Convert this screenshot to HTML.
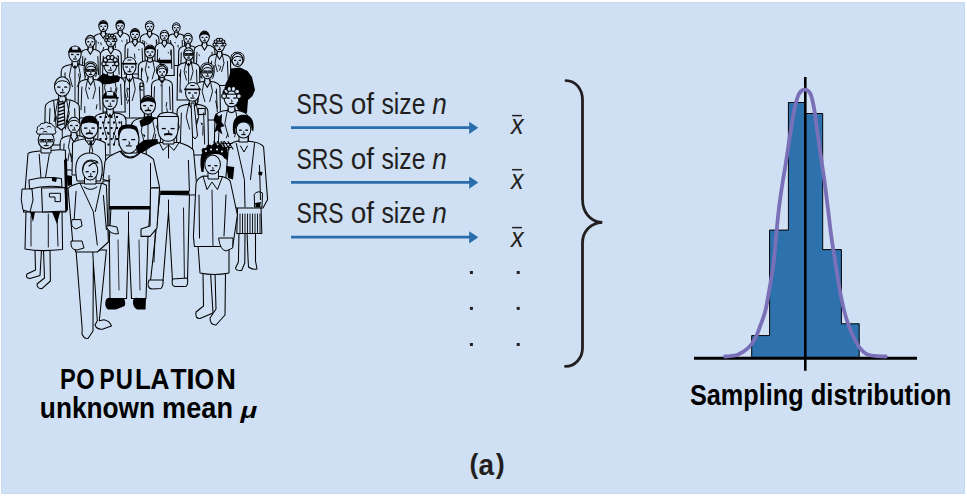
<!DOCTYPE html>
<html><head><meta charset="utf-8"><style>
html,body{margin:0;padding:0;background:#fff;width:967px;height:496px;overflow:hidden}
svg{display:block}
text{font-family:"Liberation Sans",sans-serif;font-kerning:none}
</style></head><body>
<svg width="967" height="496" viewBox="0 0 967 496">
<rect x="0" y="0" width="967" height="496" fill="#fff"/>
<rect x="1" y="2" width="964" height="492" fill="#cfe0f4"/>
<rect x="1.5" y="2.5" width="963" height="491" fill="none" stroke="#c6daf0" stroke-width="1"/>
<g id="crowd"><path d="M101.2 31.6 L101.2 33.6 C96.4 34.1 93.4 35.3 93.4 39.3 L93.0 64.0 L113.6 64.0 L113.2 39.3 C113.2 35.3 110.2 34.1 105.4 33.6 L105.4 31.6" fill="#cfe0f4" stroke="#000" stroke-width="1.05"/>
<path d="M96.2 40.3 L95.5 58.1" fill="none" stroke="#000" stroke-width="0.95"/>
<path d="M110.4 40.3 L111.1 58.1" fill="none" stroke="#000" stroke-width="0.95"/>
<path d="M100.2 33.6 L103.3 38.3 L106.4 33.6" fill="none" stroke="#000" stroke-width="1.1"/>
<path d="M100.8 42.3 L101.2 45.2" fill="none" stroke="#000" stroke-width="0.9"/>
<path d="M103.8 46.9 L102.6 51.4" fill="none" stroke="#000" stroke-width="0.9"/>
<path d="M97.5 42.0 l1.6 0.5 l-0.5 1.6 z" fill="#000"/>
<path d="M101.2 29.9 L101.2 33.6" fill="none" stroke="#000" stroke-width="1.0"/>
<path d="M105.4 29.9 L105.4 33.6" fill="none" stroke="#000" stroke-width="1.0"/>
<ellipse cx="103.3" cy="26.0" rx="4.5" ry="5.6" fill="#cfe0f4" stroke="#000" stroke-width="1.05"/>
<path d="M98.6 26.3 C98.3 19.5 108.2 19.5 108.0 26.3 L107.1 24.9 Q103.3 22.6 99.5 24.9 Z" fill="#000"/>
<path d="M100.4 26.3 L102.2 26.3" fill="none" stroke="#000" stroke-width="1.3"/>
<path d="M104.4 26.3 L106.2 26.3" fill="none" stroke="#000" stroke-width="1.3"/>
<path d="M103.3 27.2 L103.8 28.6 L103.0 28.8" fill="none" stroke="#000" stroke-width="0.9"/>
<path d="M102.0 29.6 L104.6 29.6" fill="none" stroke="#000" stroke-width="1.1"/>
<path d="M118.2 30.7 L118.2 32.7 C113.7 33.2 110.9 34.3 110.9 38.3 L110.4 63.5 L130.0 63.5 L129.6 38.3 C129.6 34.3 126.7 33.2 122.2 32.7 L122.2 30.7" fill="#cfe0f4" stroke="#000" stroke-width="1.05"/>
<path d="M113.5 39.3 L112.8 57.4" fill="none" stroke="#000" stroke-width="0.95"/>
<path d="M126.9 39.3 L127.6 57.4" fill="none" stroke="#000" stroke-width="0.95"/>
<path d="M117.2 32.7 L120.2 37.1 L123.2 32.7" fill="none" stroke="#000" stroke-width="1.1"/>
<path d="M114.4 39.6 L114.2 45.0" fill="none" stroke="#000" stroke-width="0.9"/>
<path d="M115.1 42.3 L115.4 48.1" fill="none" stroke="#000" stroke-width="0.9"/>
<path d="M121.1 40.3 l1.5 0.5 l-0.4 1.5 z" fill="#000"/>
<path d="M118.2 29.2 L118.2 32.7" fill="none" stroke="#000" stroke-width="1.0"/>
<path d="M122.2 29.2 L122.2 32.7" fill="none" stroke="#000" stroke-width="1.0"/>
<ellipse cx="120.2" cy="25.5" rx="4.2" ry="5.3" fill="#cfe0f4" stroke="#000" stroke-width="1.05"/>
<path d="M115.7 25.8 C115.5 19.4 124.9 19.4 124.7 25.8 L123.8 24.4 Q120.2 22.3 116.6 24.4 Z" fill="#000"/>
<path d="M117.5 25.8 L119.2 25.8" fill="none" stroke="#000" stroke-width="1.3"/>
<path d="M121.2 25.8 L122.9 25.8" fill="none" stroke="#000" stroke-width="1.3"/>
<path d="M120.2 26.7 L120.6 27.9 L119.9 28.2" fill="none" stroke="#000" stroke-width="0.9"/>
<path d="M118.9 28.9 L121.5 28.9" fill="none" stroke="#000" stroke-width="1.1"/>
<path d="M147.6 31.4 L147.6 33.4 C143.1 33.9 140.2 35.0 140.2 39.0 L139.8 64.2 L159.4 64.2 L158.9 39.0 C158.9 35.0 156.1 33.9 151.6 33.4 L151.6 31.4" fill="#cfe0f4" stroke="#000" stroke-width="1.05"/>
<path d="M142.9 40.0 L142.2 58.1" fill="none" stroke="#000" stroke-width="0.95"/>
<path d="M156.3 40.0 L157.0 58.1" fill="none" stroke="#000" stroke-width="0.95"/>
<path d="M146.6 33.4 L149.6 37.8 L152.6 33.4" fill="none" stroke="#000" stroke-width="1.1"/>
<path d="M156.1 39.4 L157.0 43.0" fill="none" stroke="#000" stroke-width="0.9"/>
<path d="M144.8 40.9 L144.3 46.2" fill="none" stroke="#000" stroke-width="0.9"/>
<path d="M145.8 42.6 l1.5 0.5 l-0.4 1.5 z" fill="#000"/>
<path d="M147.6 29.9 L147.6 33.4" fill="none" stroke="#000" stroke-width="1.0"/>
<path d="M151.6 29.9 L151.6 33.4" fill="none" stroke="#000" stroke-width="1.0"/>
<ellipse cx="149.6" cy="26.2" rx="4.2" ry="5.3" fill="#cfe0f4" stroke="#000" stroke-width="1.05"/>
<path d="M145.6 25.4 Q147.0 22.7 149.6 23.0 Q152.2 22.7 153.6 25.4" fill="none" stroke="#000" stroke-width="1.0"/>
<path d="M146.9 26.5 L148.6 26.5" fill="none" stroke="#000" stroke-width="1.3"/>
<path d="M150.6 26.5 L152.3 26.5" fill="none" stroke="#000" stroke-width="1.3"/>
<path d="M149.6 27.4 L150.0 28.6 L149.3 28.9" fill="none" stroke="#000" stroke-width="0.9"/>
<path d="M148.3 29.6 L150.9 29.6" fill="none" stroke="#000" stroke-width="1.1"/>
<path d="M174.6 31.7 L174.6 33.7 C170.5 34.2 168.1 35.0 168.1 39.0 L167.7 65.4 L184.9 65.4 L184.6 39.0 C184.6 35.0 182.1 34.2 178.0 33.7 L178.0 31.7" fill="#cfe0f4" stroke="#000" stroke-width="1.05"/>
<path d="M170.4 40.0 L169.8 59.1" fill="none" stroke="#000" stroke-width="0.95"/>
<path d="M182.2 40.0 L182.8 59.1" fill="none" stroke="#000" stroke-width="0.95"/>
<path d="M173.6 33.7 L176.3 37.7 L179.0 33.7" fill="none" stroke="#000" stroke-width="1.1"/>
<path d="M178.0 44.9 L178.1 47.4" fill="none" stroke="#000" stroke-width="0.9"/>
<path d="M171.0 41.9 L171.4 45.5" fill="none" stroke="#000" stroke-width="0.9"/>
<path d="M174.3 41.9 l1.4 0.4 l-0.4 1.4 z" fill="#000"/>
<path d="M174.6 30.7 L174.6 33.7" fill="none" stroke="#000" stroke-width="1.0"/>
<path d="M178.0 30.7 L178.0 33.7" fill="none" stroke="#000" stroke-width="1.0"/>
<ellipse cx="176.3" cy="27.4" rx="3.8" ry="4.7" fill="#cfe0f4" stroke="#000" stroke-width="1.05"/>
<path d="M172.7 26.7 Q174.1 24.4 176.3 24.6 Q178.6 24.4 179.9 26.7" fill="none" stroke="#000" stroke-width="1.0"/>
<path d="M173.9 27.7 L175.4 27.7" fill="none" stroke="#000" stroke-width="1.3"/>
<path d="M177.2 27.7 L178.7 27.7" fill="none" stroke="#000" stroke-width="1.3"/>
<path d="M176.3 28.4 L176.7 29.6 L176.1 29.7" fill="none" stroke="#000" stroke-width="0.9"/>
<path d="M175.2 30.4 L177.4 30.4" fill="none" stroke="#000" stroke-width="1.1"/>
<path d="M132.9 39.6 L132.9 41.6 C128.1 42.1 125.1 43.3 125.1 47.3 L124.7 74.0 L145.3 74.0 L144.9 47.3 C144.9 43.3 141.9 42.1 137.1 41.6 L137.1 39.6" fill="#cfe0f4" stroke="#000" stroke-width="1.05"/>
<path d="M127.9 48.3 L127.2 67.6" fill="none" stroke="#000" stroke-width="0.95"/>
<path d="M142.1 48.3 L142.8 67.6" fill="none" stroke="#000" stroke-width="0.95"/>
<path d="M131.9 41.6 L135.0 46.3 L138.1 41.6" fill="none" stroke="#000" stroke-width="1.1"/>
<path d="M134.3 53.5 L135.1 58.7" fill="none" stroke="#000" stroke-width="0.9"/>
<path d="M131.3 59.4 L131.4 65.3" fill="none" stroke="#000" stroke-width="0.9"/>
<path d="M137.9 48.7 l1.6 0.5 l-0.5 1.6 z" fill="#000"/>
<path d="M132.9 37.9 L132.9 41.6" fill="none" stroke="#000" stroke-width="1.0"/>
<path d="M137.1 37.9 L137.1 41.6" fill="none" stroke="#000" stroke-width="1.0"/>
<ellipse cx="135.0" cy="34.0" rx="4.5" ry="5.6" fill="#cfe0f4" stroke="#000" stroke-width="1.05"/>
<path d="M130.3 34.3 C130.1 27.5 139.9 27.5 139.7 34.3 L138.8 32.9 Q135.0 30.6 131.2 32.9 Z" fill="#000"/>
<path d="M132.1 34.3 L133.9 34.3" fill="none" stroke="#000" stroke-width="1.3"/>
<path d="M136.1 34.3 L137.9 34.3" fill="none" stroke="#000" stroke-width="1.3"/>
<path d="M135.0 35.2 L135.4 36.6 L134.7 36.8" fill="none" stroke="#000" stroke-width="0.9"/>
<path d="M133.7 37.6 L136.3 37.6" fill="none" stroke="#000" stroke-width="1.1"/>
<path d="M162.4 40.7 L162.4 42.7 C157.9 43.2 155.1 44.3 155.1 48.3 L154.6 75.5 L174.2 75.5 L173.8 48.3 C173.8 44.3 170.9 43.2 166.4 42.7 L166.4 40.7" fill="#cfe0f4" stroke="#000" stroke-width="1.05"/>
<path d="M157.7 49.3 L157.0 68.9" fill="none" stroke="#000" stroke-width="0.95"/>
<path d="M171.1 49.3 L171.8 68.9" fill="none" stroke="#000" stroke-width="0.95"/>
<path d="M161.4 42.7 L164.4 47.1 L167.4 42.7" fill="none" stroke="#000" stroke-width="1.1"/>
<path d="M170.9 50.2 L170.7 55.3" fill="none" stroke="#000" stroke-width="0.9"/>
<path d="M159.7 57.8 L158.5 62.6" fill="none" stroke="#000" stroke-width="0.9"/>
<path d="M167.5 51.8 l1.5 0.5 l-0.4 1.5 z" fill="#000"/>
<path d="M162.4 39.2 L162.4 42.7" fill="none" stroke="#000" stroke-width="1.0"/>
<path d="M166.4 39.2 L166.4 42.7" fill="none" stroke="#000" stroke-width="1.0"/>
<ellipse cx="164.4" cy="35.5" rx="4.2" ry="5.3" fill="#cfe0f4" stroke="#000" stroke-width="1.05"/>
<path d="M160.4 34.7 Q161.8 32.0 164.4 32.3 Q167.0 32.0 168.4 34.7" fill="none" stroke="#000" stroke-width="1.0"/>
<path d="M161.7 35.8 L163.4 35.8" fill="none" stroke="#000" stroke-width="1.3"/>
<path d="M165.4 35.8 L167.1 35.8" fill="none" stroke="#000" stroke-width="1.3"/>
<path d="M164.4 36.7 L164.8 37.9 L164.1 38.2" fill="none" stroke="#000" stroke-width="0.9"/>
<path d="M163.1 38.9 L165.7 38.9" fill="none" stroke="#000" stroke-width="1.1"/>
<path d="M186.0 43.7 L186.0 45.7 C181.5 46.2 178.7 47.3 178.7 51.3 L178.2 78.5 L197.8 78.5 L197.3 51.3 C197.3 47.3 194.5 46.2 190.0 45.7 L190.0 43.7" fill="#cfe0f4" stroke="#000" stroke-width="1.05"/>
<path d="M181.3 52.3 L180.6 71.9" fill="none" stroke="#000" stroke-width="0.95"/>
<path d="M194.7 52.3 L195.4 71.9" fill="none" stroke="#000" stroke-width="0.95"/>
<path d="M185.0 45.7 L188.0 50.1 L191.0 45.7" fill="none" stroke="#000" stroke-width="1.1"/>
<path d="M193.1 57.2 L193.6 61.8" fill="none" stroke="#000" stroke-width="0.9"/>
<path d="M189.1 60.1 L190.0 65.9" fill="none" stroke="#000" stroke-width="0.9"/>
<path d="M187.7 55.6 l1.5 0.5 l-0.4 1.5 z" fill="#000"/>
<path d="M186.0 42.2 L186.0 45.7" fill="none" stroke="#000" stroke-width="1.0"/>
<path d="M190.0 42.2 L190.0 45.7" fill="none" stroke="#000" stroke-width="1.0"/>
<ellipse cx="188.0" cy="38.5" rx="4.2" ry="5.3" fill="#cfe0f4" stroke="#000" stroke-width="1.05"/>
<path d="M184.0 37.7 Q185.4 35.0 188.0 35.3 Q190.6 35.0 192.0 37.7" fill="none" stroke="#000" stroke-width="1.0"/>
<path d="M185.3 38.8 L187.0 38.8" fill="none" stroke="#000" stroke-width="1.3"/>
<path d="M189.0 38.8 L190.7 38.8" fill="none" stroke="#000" stroke-width="1.3"/>
<path d="M188.0 39.7 L188.4 40.9 L187.7 41.2" fill="none" stroke="#000" stroke-width="0.9"/>
<path d="M186.7 41.9 L189.3 41.9" fill="none" stroke="#000" stroke-width="1.1"/>
<path d="M202.3 43.0 L202.3 45.0 C197.2 45.5 194.1 46.9 194.1 50.9 L193.6 77.0 L215.4 77.0 L214.9 50.9 C214.9 46.9 211.8 45.5 206.7 45.0 L206.7 43.0" fill="#cfe0f4" stroke="#000" stroke-width="1.05"/>
<path d="M197.0 51.9 L196.2 70.7" fill="none" stroke="#000" stroke-width="0.95"/>
<path d="M212.0 51.9 L212.8 70.7" fill="none" stroke="#000" stroke-width="0.95"/>
<path d="M201.3 45.0 L204.5 50.0 L207.7 45.0" fill="none" stroke="#000" stroke-width="1.1"/>
<path d="M197.8 66.7 L198.2 73.3" fill="none" stroke="#000" stroke-width="0.9"/>
<path d="M209.4 57.2 L209.1 62.6" fill="none" stroke="#000" stroke-width="0.9"/>
<path d="M198.2 54.2 l1.7 0.6 l-0.5 1.7 z" fill="#000"/>
<path d="M202.3 41.2 L202.3 45.0" fill="none" stroke="#000" stroke-width="1.0"/>
<path d="M206.7 41.2 L206.7 45.0" fill="none" stroke="#000" stroke-width="1.0"/>
<ellipse cx="204.5" cy="37.0" rx="4.8" ry="5.9" fill="#cfe0f4" stroke="#000" stroke-width="1.05"/>
<path d="M199.5 37.3 C199.3 30.2 209.7 30.2 209.5 37.3 L208.5 35.8 Q204.5 33.4 200.5 35.8 Z" fill="#000"/>
<path d="M201.5 37.4 L203.4 37.4" fill="none" stroke="#000" stroke-width="1.3"/>
<path d="M205.6 37.4 L207.5 37.4" fill="none" stroke="#000" stroke-width="1.3"/>
<path d="M204.5 38.3 L205.0 39.7 L204.2 40.0" fill="none" stroke="#000" stroke-width="0.9"/>
<path d="M203.1 40.8 L205.9 40.8" fill="none" stroke="#000" stroke-width="1.1"/>
<path d="M88.1 47.3 L88.1 49.3 C83.0 49.8 79.8 51.2 79.8 55.2 L79.4 81.3 L101.2 81.3 L100.8 55.2 C100.8 51.2 97.6 49.8 92.5 49.3 L92.5 47.3" fill="#cfe0f4" stroke="#000" stroke-width="1.05"/>
<path d="M82.8 56.2 L82.0 75.0" fill="none" stroke="#000" stroke-width="0.95"/>
<path d="M97.8 56.2 L98.6 75.0" fill="none" stroke="#000" stroke-width="0.95"/>
<path d="M87.1 49.3 L90.3 54.3 L93.5 49.3" fill="none" stroke="#000" stroke-width="1.1"/>
<path d="M85.3 57.7 L84.0 63.5" fill="none" stroke="#000" stroke-width="0.9"/>
<path d="M84.7 60.7 L84.4 66.8" fill="none" stroke="#000" stroke-width="0.9"/>
<path d="M84.7 58.3 l1.7 0.6 l-0.5 1.7 z" fill="#000"/>
<path d="M88.1 45.5 L88.1 49.3" fill="none" stroke="#000" stroke-width="1.0"/>
<path d="M92.5 45.5 L92.5 49.3" fill="none" stroke="#000" stroke-width="1.0"/>
<ellipse cx="90.3" cy="41.3" rx="4.8" ry="5.9" fill="#cfe0f4" stroke="#000" stroke-width="1.05"/>
<path d="M85.8 40.4 Q87.5 37.4 90.3 37.7 Q93.1 37.4 94.8 40.4" fill="none" stroke="#000" stroke-width="1.0"/>
<path d="M87.3 41.7 L89.2 41.7" fill="none" stroke="#000" stroke-width="1.3"/>
<path d="M91.4 41.7 L93.3 41.7" fill="none" stroke="#000" stroke-width="1.3"/>
<path d="M90.3 42.6 L90.8 44.0 L90.0 44.3" fill="none" stroke="#000" stroke-width="0.9"/>
<path d="M88.9 45.1 L91.7 45.1" fill="none" stroke="#000" stroke-width="1.1"/>
<path d="M108.6 47.0 L108.6 49.0 C103.5 49.5 100.3 50.9 100.3 54.9 L99.9 81.0 L121.7 81.0 L121.2 54.9 C121.2 50.9 118.1 49.5 113.0 49.0 L113.0 47.0" fill="#cfe0f4" stroke="#000" stroke-width="1.05"/>
<path d="M103.3 55.9 L102.5 74.7" fill="none" stroke="#000" stroke-width="0.95"/>
<path d="M118.3 55.9 L119.1 74.7" fill="none" stroke="#000" stroke-width="0.95"/>
<path d="M107.6 49.0 L110.8 54.0 L114.0 49.0" fill="none" stroke="#000" stroke-width="1.1"/>
<path d="M111.6 74.9 L112.5 81.0" fill="none" stroke="#000" stroke-width="0.9"/>
<path d="M107.4 64.2 L107.0 70.4" fill="none" stroke="#000" stroke-width="0.9"/>
<path d="M116.9 55.2 l1.7 0.6 l-0.5 1.7 z" fill="#000"/>
<path d="M108.6 45.2 L108.6 49.0" fill="none" stroke="#000" stroke-width="1.0"/>
<path d="M113.0 45.2 L113.0 49.0" fill="none" stroke="#000" stroke-width="1.0"/>
<ellipse cx="110.8" cy="41.0" rx="4.8" ry="5.9" fill="#cfe0f4" stroke="#000" stroke-width="1.05"/>
<circle cx="106.1" cy="40.1" r="1.5" fill="#cfe0f4" stroke="#000" stroke-width="1.1"/>
<circle cx="107.2" cy="37.3" r="1.5" fill="#cfe0f4" stroke="#000" stroke-width="1.1"/>
<circle cx="109.5" cy="35.6" r="1.5" fill="#cfe0f4" stroke="#000" stroke-width="1.1"/>
<circle cx="112.1" cy="35.6" r="1.5" fill="#cfe0f4" stroke="#000" stroke-width="1.1"/>
<circle cx="114.4" cy="37.3" r="1.5" fill="#cfe0f4" stroke="#000" stroke-width="1.1"/>
<circle cx="115.5" cy="40.1" r="1.5" fill="#cfe0f4" stroke="#000" stroke-width="1.1"/>
<path d="M107.0 38.9 L114.6 38.9" fill="none" stroke="#000" stroke-width="1.0"/>
<path d="M107.8 41.4 L109.7 41.4" fill="none" stroke="#000" stroke-width="1.3"/>
<path d="M111.9 41.4 L113.8 41.4" fill="none" stroke="#000" stroke-width="1.3"/>
<path d="M110.8 42.3 L111.3 43.7 L110.5 44.0" fill="none" stroke="#000" stroke-width="0.9"/>
<path d="M109.4 44.8 L112.2 44.8" fill="none" stroke="#000" stroke-width="1.1"/>
<path d="M217.2 52.0 L217.2 54.0 C211.8 54.5 208.5 56.0 208.5 60.0 L208.0 85.5 L231.0 85.5 L230.5 60.0 C230.5 56.0 227.2 54.5 221.8 54.0 L221.8 52.0" fill="#cfe0f4" stroke="#000" stroke-width="1.05"/>
<path d="M211.6 61.0 L210.8 79.4" fill="none" stroke="#000" stroke-width="0.95"/>
<path d="M227.4 61.0 L228.2 79.4" fill="none" stroke="#000" stroke-width="0.95"/>
<path d="M216.2 54.0 L219.5 59.2 L222.8 54.0" fill="none" stroke="#000" stroke-width="1.1"/>
<path d="M216.7 54.5 L215.0 63.0 L217.5 72.0" fill="none" stroke="#000" stroke-width="0.9"/>
<path d="M222.3 54.5 L224.0 63.0 L221.5 72.0" fill="none" stroke="#000" stroke-width="0.9"/>
<path d="M214.3 65.2 L213.5 70.1" fill="none" stroke="#000" stroke-width="0.9"/>
<path d="M220.9 65.9 L219.4 70.6" fill="none" stroke="#000" stroke-width="0.9"/>
<path d="M217.7 64.6 l1.8 0.6 l-0.5 1.8 z" fill="#000"/>
<path d="M217.2 49.9 L217.2 54.0" fill="none" stroke="#000" stroke-width="1.0"/>
<path d="M221.8 49.9 L221.8 54.0" fill="none" stroke="#000" stroke-width="1.0"/>
<ellipse cx="219.5" cy="45.5" rx="5.0" ry="6.2" fill="#cfe0f4" stroke="#000" stroke-width="1.05"/>
<circle cx="214.6" cy="44.6" r="1.6" fill="#cfe0f4" stroke="#000" stroke-width="1.1"/>
<circle cx="215.7" cy="41.6" r="1.6" fill="#cfe0f4" stroke="#000" stroke-width="1.1"/>
<circle cx="218.1" cy="39.8" r="1.6" fill="#cfe0f4" stroke="#000" stroke-width="1.1"/>
<circle cx="220.9" cy="39.8" r="1.6" fill="#cfe0f4" stroke="#000" stroke-width="1.1"/>
<circle cx="223.3" cy="41.6" r="1.6" fill="#cfe0f4" stroke="#000" stroke-width="1.1"/>
<circle cx="224.4" cy="44.6" r="1.6" fill="#cfe0f4" stroke="#000" stroke-width="1.1"/>
<path d="M215.5 43.3 L223.5 43.3" fill="none" stroke="#000" stroke-width="1.0"/>
<path d="M216.3 45.9 L218.3 45.9" fill="none" stroke="#000" stroke-width="1.3"/>
<path d="M220.7 45.9 L222.7 45.9" fill="none" stroke="#000" stroke-width="1.3"/>
<path d="M219.5 46.9 L220.0 48.4 L219.2 48.6" fill="none" stroke="#000" stroke-width="0.9"/>
<path d="M218.0 49.5 L221.0 49.5" fill="none" stroke="#000" stroke-width="1.1"/>
<path d="M157 59.7 L172 59.7 L172 63.4 L157 63.4 Z" fill="#000"/>
<path d="M72.1 62.6 L72.1 64.6 C65.4 65.1 61.2 67.4 61.2 71.4 L60.6 115.0 L89.4 115.0 L88.8 71.4 C88.8 67.4 84.6 65.1 77.9 64.6 L77.9 62.6" fill="#cfe0f4" stroke="#000" stroke-width="1.05"/>
<path d="M65.1 72.4 L64.1 104.3" fill="none" stroke="#000" stroke-width="0.95"/>
<path d="M84.9 72.4 L85.9 104.3" fill="none" stroke="#000" stroke-width="0.95"/>
<path d="M71.1 63.6 L74.1 68.0 L75.0 66.0 L75.9 68.0 L78.9 63.6" fill="none" stroke="#000" stroke-width="1.1"/>
<path d="M75.0 66.0 L75.0 114.0" fill="none" stroke="#000" stroke-width="0.9"/>
<path d="M71.5 65.1 L69.4 75.8 L72.5 87.1" fill="none" stroke="#000" stroke-width="0.9"/>
<path d="M78.5 65.1 L80.6 75.8 L77.5 87.1" fill="none" stroke="#000" stroke-width="0.9"/>
<path d="M84.1 92.8 L84.1 99.6" fill="none" stroke="#000" stroke-width="0.9"/>
<path d="M78.5 73.7 L80.0 81.3" fill="none" stroke="#000" stroke-width="0.9"/>
<path d="M81.6 80.8 l2.2 0.8 l-0.6 2.2 z" fill="#000"/>
<path d="M72.1 59.5 L72.1 64.6" fill="none" stroke="#000" stroke-width="1.0"/>
<path d="M77.9 59.5 L77.9 64.6" fill="none" stroke="#000" stroke-width="1.0"/>
<ellipse cx="75.0" cy="54.0" rx="6.2" ry="7.8" fill="#cfe0f4" stroke="#000" stroke-width="1.05"/>
<path d="M68.8 51.7 C68.8 43.8 81.2 43.8 81.2 51.7 Z" fill="#000"/>
<rect x="72.2" y="46.6" width="5.6" height="3.1" fill="#cfe0f4"/>
<path d="M68.1 51.7 L82.5 51.7" fill="none" stroke="#000" stroke-width="1.6"/>
<path d="M71.0 54.5 L73.5 54.5" fill="none" stroke="#000" stroke-width="1.3"/>
<path d="M76.5 54.5 L79.0 54.5" fill="none" stroke="#000" stroke-width="1.3"/>
<path d="M75.0 55.7 L75.6 57.6 L74.6 57.9" fill="none" stroke="#000" stroke-width="0.9"/>
<path d="M73.1 59.0 L76.9 59.0" fill="none" stroke="#000" stroke-width="1.1"/>
<path d="M147.6 58.4 L147.6 60.4 C141.9 60.9 138.4 62.6 138.4 66.6 L137.9 100.0 L162.1 100.0 L161.6 66.6 C161.6 62.6 158.1 60.9 152.4 60.4 L152.4 58.4" fill="#cfe0f4" stroke="#000" stroke-width="1.05"/>
<path d="M141.7 67.6 L140.9 91.9" fill="none" stroke="#000" stroke-width="0.95"/>
<path d="M158.3 67.6 L159.1 91.9" fill="none" stroke="#000" stroke-width="0.95"/>
<path d="M146.6 60.4 Q150.0 63.8 153.4 60.4" fill="none" stroke="#000" stroke-width="1.1"/>
<path d="M147.1 60.9 L145.3 69.8 L147.9 79.3" fill="none" stroke="#000" stroke-width="0.9"/>
<path d="M152.9 60.9 L154.7 69.8 L152.1 79.3" fill="none" stroke="#000" stroke-width="0.9"/>
<path d="M148.2 76.7 L146.9 82.5" fill="none" stroke="#000" stroke-width="0.9"/>
<path d="M142.6 68.4 L141.7 72.2" fill="none" stroke="#000" stroke-width="0.9"/>
<path d="M147.6 66.2 l1.9 0.6 l-0.5 1.9 z" fill="#000"/>
<path d="M147.6 56.1 L147.6 60.4" fill="none" stroke="#000" stroke-width="1.0"/>
<path d="M152.4 56.1 L152.4 60.4" fill="none" stroke="#000" stroke-width="1.0"/>
<ellipse cx="150.0" cy="51.5" rx="5.2" ry="6.6" fill="#cfe0f4" stroke="#000" stroke-width="1.05"/>
<path d="M144.5 51.8 C144.2 44.0 155.8 44.0 155.5 51.8 L154.5 50.2 Q150.0 47.6 145.5 50.2 Z" fill="#000"/>
<path d="M146.6 51.9 L148.7 51.9" fill="none" stroke="#000" stroke-width="1.3"/>
<path d="M151.3 51.9 L153.4 51.9" fill="none" stroke="#000" stroke-width="1.3"/>
<path d="M150.0 52.9 L150.5 54.5 L149.7 54.8" fill="none" stroke="#000" stroke-width="0.9"/>
<path d="M148.4 55.7 L151.6 55.7" fill="none" stroke="#000" stroke-width="1.1"/>
<path d="M186.3 60.5 L186.3 62.5 C180.9 63.0 177.6 64.5 177.6 68.5 L177.1 100.0 L200.1 100.0 L199.6 68.5 C199.6 64.5 196.3 63.0 190.9 62.5 L190.9 60.5" fill="#cfe0f4" stroke="#000" stroke-width="1.05"/>
<path d="M180.7 69.5 L179.9 92.4" fill="none" stroke="#000" stroke-width="0.95"/>
<path d="M196.5 69.5 L197.3 92.4" fill="none" stroke="#000" stroke-width="0.95"/>
<path d="M185.3 61.5 L187.9 65.2 L188.6 63.6 L189.3 65.2 L191.9 61.5" fill="none" stroke="#000" stroke-width="1.1"/>
<path d="M188.6 63.6 L188.6 99.0" fill="none" stroke="#000" stroke-width="0.9"/>
<path d="M185.8 63.0 L184.1 71.5 L186.6 80.5" fill="none" stroke="#000" stroke-width="0.9"/>
<path d="M191.4 63.0 L193.1 71.5 L190.6 80.5" fill="none" stroke="#000" stroke-width="0.9"/>
<path d="M180.6 72.1 L179.4 76.5" fill="none" stroke="#000" stroke-width="0.9"/>
<path d="M181.0 89.4 L181.4 93.0" fill="none" stroke="#000" stroke-width="0.9"/>
<path d="M185.1 70.9 l1.8 0.6 l-0.5 1.8 z" fill="#000"/>
<path d="M186.3 58.4 L186.3 62.5" fill="none" stroke="#000" stroke-width="1.0"/>
<path d="M190.9 58.4 L190.9 62.5" fill="none" stroke="#000" stroke-width="1.0"/>
<ellipse cx="188.6" cy="54.0" rx="5.0" ry="6.2" fill="#cfe0f4" stroke="#000" stroke-width="1.05"/>
<path d="M183.8 53.1 Q185.6 49.9 188.6 50.2 Q191.6 49.9 193.3 53.1" fill="none" stroke="#000" stroke-width="1.0"/>
<path d="M185.4 54.4 L187.4 54.4" fill="none" stroke="#000" stroke-width="1.3"/>
<path d="M189.8 54.4 L191.8 54.4" fill="none" stroke="#000" stroke-width="1.3"/>
<path d="M188.6 55.4 L189.1 56.9 L188.3 57.1" fill="none" stroke="#000" stroke-width="0.9"/>
<path d="M187.1 58.0 L190.1 58.0" fill="none" stroke="#000" stroke-width="1.1"/>
<rect x="184.7" y="53.5" width="3.4" height="1.8" fill="none" stroke="#000" stroke-width="0.9"/>
<rect x="189.1" y="53.5" width="3.4" height="1.8" fill="none" stroke="#000" stroke-width="0.9"/>
<path d="M231 68.5 L240 67.5 L247.5 71 L252 77 L255 90 L252.5 96 L248 100 L247 113 L240 113 L236 106 L226 92 L225 85 L229 77 Z" fill="#000"/>
<path d="M232.6 63.2 C229.7 60.0 230.1 51.9 237.5 52.2 C244.9 51.9 245.3 60.0 242.4 63.2" fill="#cfe0f4" stroke="#000" stroke-width="1.0"/>
<ellipse cx="237.5" cy="60.0" rx="5.5" ry="6.5" fill="#cfe0f4" stroke="#000" stroke-width="1.05"/>
<path d="M232.0 60.0 Q235.3 54.8 240.8 57.1 Q242.4 58.0 243.0 60.0" fill="none" stroke="#000" stroke-width="1.0"/>
<path d="M234.0 60.4 L236.2 60.4" fill="none" stroke="#000" stroke-width="1.3"/>
<path d="M238.8 60.4 L241.0 60.4" fill="none" stroke="#000" stroke-width="1.3"/>
<path d="M237.5 61.4 L238.1 63.0 L237.2 63.2" fill="none" stroke="#000" stroke-width="0.9"/>
<path d="M235.8 64.2 L239.2 64.2" fill="none" stroke="#000" stroke-width="1.1"/>
<path d="M126.5 75.5 L126.5 77.5 C119.5 78.0 115.2 80.4 115.2 84.4 L114.5 118.0 L144.4 118.0 L143.8 84.4 C143.8 80.4 139.5 78.0 132.5 77.5 L132.5 75.5" fill="#cfe0f4" stroke="#000" stroke-width="1.05"/>
<path d="M119.2 85.4 L118.2 109.9" fill="none" stroke="#000" stroke-width="0.95"/>
<path d="M139.8 85.4 L140.8 109.9" fill="none" stroke="#000" stroke-width="0.95"/>
<path d="M125.5 76.5 L128.6 81.1 L129.5 79.0 L130.4 81.1 L133.5 76.5" fill="none" stroke="#000" stroke-width="1.1"/>
<path d="M129.5 79.0 L129.5 117.0" fill="none" stroke="#000" stroke-width="0.9"/>
<path d="M125.9 78.0 L123.7 89.2 L126.9 100.9" fill="none" stroke="#000" stroke-width="0.9"/>
<path d="M133.1 78.0 L135.3 89.2 L132.1 100.9" fill="none" stroke="#000" stroke-width="0.9"/>
<path d="M126.7 88.8 L128.0 97.9" fill="none" stroke="#000" stroke-width="0.9"/>
<path d="M128.8 99.2 L127.2 103.7" fill="none" stroke="#000" stroke-width="0.9"/>
<path d="M126.6 87.4 l2.3 0.8 l-0.7 2.3 z" fill="#000"/>
<path d="M126.5 72.2 L126.5 77.5" fill="none" stroke="#000" stroke-width="1.0"/>
<path d="M132.5 72.2 L132.5 77.5" fill="none" stroke="#000" stroke-width="1.0"/>
<ellipse cx="129.5" cy="66.5" rx="6.5" ry="8.1" fill="#cfe0f4" stroke="#000" stroke-width="1.05"/>
<path d="M123.0 63.7 C123.7 55.1 135.3 55.1 136.0 63.7 Z" fill="#cfe0f4" stroke="#000" stroke-width="1.0"/>
<path d="M121.7 63.7 L137.3 63.7" fill="none" stroke="#000" stroke-width="1.6"/>
<path d="M127.5 60.0 L131.4 60.0" fill="none" stroke="#000" stroke-width="1.0"/>
<path d="M125.3 67.0 L127.9 67.0" fill="none" stroke="#000" stroke-width="1.3"/>
<path d="M131.1 67.0 L133.7 67.0" fill="none" stroke="#000" stroke-width="1.3"/>
<path d="M129.5 68.3 L130.2 70.2 L129.1 70.6" fill="none" stroke="#000" stroke-width="0.9"/>
<path d="M127.5 71.7 L131.4 71.7" fill="none" stroke="#000" stroke-width="1.1"/>
<path d="M140 83 L140 90 L143 90 M140 83 L143 83 L143 86.5 L140 86.5" fill="none" stroke="#000" stroke-width="1"/>
<path d="M107.3 74.0 L107.3 76.0 C100.3 76.5 96.0 78.9 96.0 82.9 L95.3 112.0 L125.2 112.0 L124.6 82.9 C124.6 78.9 120.3 76.5 113.3 76.0 L113.3 74.0" fill="#cfe0f4" stroke="#000" stroke-width="1.05"/>
<path d="M100.0 83.9 L99.0 105.0" fill="none" stroke="#000" stroke-width="0.95"/>
<path d="M120.6 83.9 L121.6 105.0" fill="none" stroke="#000" stroke-width="0.95"/>
<path d="M106.3 76.0 Q110.3 80.2 114.3 76.0" fill="none" stroke="#000" stroke-width="1.1"/>
<path d="M106.7 76.5 L104.5 87.7 L107.7 99.4" fill="none" stroke="#000" stroke-width="0.9"/>
<path d="M113.9 76.5 L116.1 87.7 L112.9 99.4" fill="none" stroke="#000" stroke-width="0.9"/>
<path d="M117.1 87.7 L115.3 96.6" fill="none" stroke="#000" stroke-width="0.9"/>
<path d="M110.9 87.3 L111.1 91.4" fill="none" stroke="#000" stroke-width="0.9"/>
<path d="M110.8 95.2 l2.3 0.8 l-0.7 2.3 z" fill="#000"/>
<path d="M107.3 70.7 L107.3 76.0" fill="none" stroke="#000" stroke-width="1.0"/>
<path d="M113.3 70.7 L113.3 76.0" fill="none" stroke="#000" stroke-width="1.0"/>
<ellipse cx="110.3" cy="65.0" rx="6.5" ry="8.1" fill="#cfe0f4" stroke="#000" stroke-width="1.05"/>
<circle cx="103.9" cy="63.8" r="2.1" fill="#cfe0f4" stroke="#000" stroke-width="1.1"/>
<circle cx="105.4" cy="59.9" r="2.1" fill="#cfe0f4" stroke="#000" stroke-width="1.1"/>
<circle cx="108.5" cy="57.6" r="2.1" fill="#cfe0f4" stroke="#000" stroke-width="1.1"/>
<circle cx="112.1" cy="57.6" r="2.1" fill="#cfe0f4" stroke="#000" stroke-width="1.1"/>
<circle cx="115.2" cy="59.9" r="2.1" fill="#cfe0f4" stroke="#000" stroke-width="1.1"/>
<circle cx="116.7" cy="63.8" r="2.1" fill="#cfe0f4" stroke="#000" stroke-width="1.1"/>
<path d="M105.1 62.2 L115.5 62.2" fill="none" stroke="#000" stroke-width="1.0"/>
<path d="M106.1 65.5 L108.7 65.5" fill="none" stroke="#000" stroke-width="1.3"/>
<path d="M111.9 65.5 L114.5 65.5" fill="none" stroke="#000" stroke-width="1.3"/>
<path d="M110.3 66.8 L111.0 68.7 L109.9 69.1" fill="none" stroke="#000" stroke-width="0.9"/>
<path d="M108.3 70.2 L112.2 70.2" fill="none" stroke="#000" stroke-width="1.1"/>
<path d="M97.7 78.8 L103.3 73.2 L110 76 L117.4 75.3 L120.3 77.4 L118.9 81.7 L110 84 L100.5 84.5 Z" fill="#000"/>
<path d="M88.1 77.3 L88.1 79.3 C82.1 79.8 78.5 81.6 78.5 85.6 L77.9 118.0 L103.2 118.0 L102.7 85.6 C102.7 81.6 99.1 79.8 93.1 79.3 L93.1 77.3" fill="#cfe0f4" stroke="#000" stroke-width="1.05"/>
<path d="M81.9 86.6 L81.0 110.2" fill="none" stroke="#000" stroke-width="0.95"/>
<path d="M99.3 86.6 L100.2 110.2" fill="none" stroke="#000" stroke-width="0.95"/>
<path d="M87.1 79.3 L90.6 85.0 L94.1 79.3" fill="none" stroke="#000" stroke-width="1.1"/>
<path d="M87.5 79.8 L85.6 89.2 L88.4 99.1" fill="none" stroke="#000" stroke-width="0.9"/>
<path d="M93.7 79.8 L95.5 89.2 L92.8 99.1" fill="none" stroke="#000" stroke-width="0.9"/>
<path d="M97.0 104.3 L96.2 109.2" fill="none" stroke="#000" stroke-width="0.9"/>
<path d="M84.7 106.3 L84.8 113.0" fill="none" stroke="#000" stroke-width="0.9"/>
<path d="M88.0 87.2 l2.0 0.7 l-0.6 2.0 z" fill="#000"/>
<path d="M88.1 74.8 L88.1 79.3" fill="none" stroke="#000" stroke-width="1.0"/>
<path d="M93.1 74.8 L93.1 79.3" fill="none" stroke="#000" stroke-width="1.0"/>
<path d="M85.6 76.9 C82.8 70.0 83.2 61.4 90.6 61.8 C98.0 61.4 98.4 70.0 95.5 76.9" fill="#cfe0f4" stroke="#000" stroke-width="1.0"/>
<ellipse cx="90.6" cy="70.0" rx="5.5" ry="6.9" fill="#cfe0f4" stroke="#000" stroke-width="1.05"/>
<path d="M85.1 70.0 Q88.4 64.5 93.9 66.9 Q95.5 67.9 96.1 70.0" fill="none" stroke="#000" stroke-width="1.0"/>
<path d="M87.1 70.4 L89.3 70.4" fill="none" stroke="#000" stroke-width="1.3"/>
<path d="M91.9 70.4 L94.1 70.4" fill="none" stroke="#000" stroke-width="1.3"/>
<path d="M90.6 71.5 L91.1 73.2 L90.3 73.4" fill="none" stroke="#000" stroke-width="0.9"/>
<path d="M88.9 74.4 L92.2 74.4" fill="none" stroke="#000" stroke-width="1.1"/>
<rect x="86.3" y="69.4" width="3.7" height="1.9" fill="none" stroke="#000" stroke-width="0.9"/>
<rect x="91.1" y="69.4" width="3.7" height="1.9" fill="none" stroke="#000" stroke-width="0.9"/>
<path d="M159.8 77.5 L159.8 79.5 C154.7 80.0 151.6 81.4 151.6 85.4 L151.1 118.0 L172.9 118.0 L172.4 85.4 C172.4 81.4 169.3 80.0 164.2 79.5 L164.2 77.5" fill="#cfe0f4" stroke="#000" stroke-width="1.05"/>
<path d="M154.5 86.4 L153.7 110.1" fill="none" stroke="#000" stroke-width="0.95"/>
<path d="M169.5 86.4 L170.3 110.1" fill="none" stroke="#000" stroke-width="0.95"/>
<path d="M158.8 78.5 L161.3 82.1 L162.0 80.6 L162.7 82.1 L165.2 78.5" fill="none" stroke="#000" stroke-width="1.1"/>
<path d="M162.0 80.6 L162.0 117.0" fill="none" stroke="#000" stroke-width="0.9"/>
<path d="M166.7 107.7 L167.7 113.6" fill="none" stroke="#000" stroke-width="0.9"/>
<path d="M166.8 102.1 L166.1 106.9" fill="none" stroke="#000" stroke-width="0.9"/>
<path d="M160.1 84.6 l1.7 0.6 l-0.5 1.7 z" fill="#000"/>
<path d="M159.8 75.7 L159.8 79.5" fill="none" stroke="#000" stroke-width="1.0"/>
<path d="M164.2 75.7 L164.2 79.5" fill="none" stroke="#000" stroke-width="1.0"/>
<path d="M157.7 74.5 C155.3 71.5 155.6 64.1 162.0 64.4 C168.4 64.1 168.7 71.5 166.3 74.5" fill="#cfe0f4" stroke="#000" stroke-width="1.0"/>
<ellipse cx="162.0" cy="71.5" rx="4.8" ry="5.9" fill="#cfe0f4" stroke="#000" stroke-width="1.05"/>
<path d="M157.2 71.5 Q160.1 66.8 164.8 68.8 Q166.3 69.7 166.8 71.5" fill="none" stroke="#000" stroke-width="1.0"/>
<path d="M159.0 71.9 L160.9 71.9" fill="none" stroke="#000" stroke-width="1.3"/>
<path d="M163.1 71.9 L165.0 71.9" fill="none" stroke="#000" stroke-width="1.3"/>
<path d="M162.0 72.8 L162.5 74.2 L161.7 74.5" fill="none" stroke="#000" stroke-width="0.9"/>
<path d="M160.6 75.3 L163.4 75.3" fill="none" stroke="#000" stroke-width="1.1"/>
<path d="M204.7 79.2 L204.7 81.2 C198.4 81.7 194.7 83.7 194.7 87.7 L194.1 120.0 L220.5 120.0 L220.0 87.7 C220.0 83.7 216.2 81.7 209.9 81.2 L209.9 79.2" fill="#cfe0f4" stroke="#000" stroke-width="1.05"/>
<path d="M198.2 88.7 L197.3 112.2" fill="none" stroke="#000" stroke-width="0.95"/>
<path d="M216.4 88.7 L217.3 112.2" fill="none" stroke="#000" stroke-width="0.95"/>
<path d="M203.7 81.2 L207.3 87.2 L210.9 81.2" fill="none" stroke="#000" stroke-width="1.1"/>
<path d="M204.1 81.7 L202.1 91.6 L205.0 101.9" fill="none" stroke="#000" stroke-width="0.9"/>
<path d="M210.5 81.7 L212.5 91.6 L209.6 101.9" fill="none" stroke="#000" stroke-width="0.9"/>
<path d="M198.6 95.8 L197.8 102.5" fill="none" stroke="#000" stroke-width="0.9"/>
<path d="M215.7 100.5 L217.2 108.5" fill="none" stroke="#000" stroke-width="0.9"/>
<path d="M214.6 91.2 l2.1 0.7 l-0.6 2.1 z" fill="#000"/>
<path d="M204.7 76.5 L204.7 81.2" fill="none" stroke="#000" stroke-width="1.0"/>
<path d="M209.9 76.5 L209.9 81.2" fill="none" stroke="#000" stroke-width="1.0"/>
<path d="M202.1 78.7 C199.1 71.5 199.5 62.5 207.3 62.9 C215.1 62.5 215.5 71.5 212.5 78.7" fill="#cfe0f4" stroke="#000" stroke-width="1.0"/>
<ellipse cx="207.3" cy="71.5" rx="5.8" ry="7.2" fill="#cfe0f4" stroke="#000" stroke-width="1.05"/>
<path d="M201.6 71.5 Q205.0 65.8 210.8 68.3 Q212.5 69.3 213.1 71.5" fill="none" stroke="#000" stroke-width="1.0"/>
<path d="M203.6 71.9 L205.9 71.9" fill="none" stroke="#000" stroke-width="1.3"/>
<path d="M208.7 71.9 L211.0 71.9" fill="none" stroke="#000" stroke-width="1.3"/>
<path d="M207.3 73.1 L207.9 74.8 L207.0 75.1" fill="none" stroke="#000" stroke-width="0.9"/>
<path d="M205.6 76.1 L209.0 76.1" fill="none" stroke="#000" stroke-width="1.1"/>
<rect x="202.8" y="70.9" width="3.9" height="2.0" fill="none" stroke="#000" stroke-width="0.9"/>
<rect x="207.9" y="70.9" width="3.9" height="2.0" fill="none" stroke="#000" stroke-width="0.9"/>
<path d="M58.7 97.6 L58.7 99.6 C50.4 100.1 45.2 103.3 45.2 107.3 L44.5 145.0 L80.1 145.0 L79.3 107.3 C79.3 103.3 74.2 100.1 65.9 99.6 L65.9 97.6" fill="#cfe0f4" stroke="#000" stroke-width="1.05"/>
<path d="M50.0 108.3 L48.8 135.8" fill="none" stroke="#000" stroke-width="0.95"/>
<path d="M74.6 108.3 L75.8 135.8" fill="none" stroke="#000" stroke-width="0.95"/>
<path d="M57.7 98.6 L61.2 103.9 L62.3 101.4 L63.4 103.9 L66.9 98.6" fill="none" stroke="#000" stroke-width="1.1"/>
<path d="M62.3 101.4 L62.3 144.0" fill="none" stroke="#000" stroke-width="0.9"/>
<path d="M58.0 100.1 L55.3 113.5 L59.2 127.5" fill="none" stroke="#000" stroke-width="0.9"/>
<path d="M66.6 100.1 L69.3 113.5 L65.4 127.5" fill="none" stroke="#000" stroke-width="0.9"/>
<path d="M55.4 116.0 L54.0 121.9" fill="none" stroke="#000" stroke-width="0.9"/>
<path d="M65.4 137.2 L67.0 144.8" fill="none" stroke="#000" stroke-width="0.9"/>
<path d="M65.6 119.7 l2.8 0.9 l-0.8 2.8 z" fill="#000"/>
<path d="M58.7 93.3 L58.7 99.6" fill="none" stroke="#000" stroke-width="1.0"/>
<path d="M65.9 93.3 L65.9 99.6" fill="none" stroke="#000" stroke-width="1.0"/>
<ellipse cx="62.3" cy="86.5" rx="7.8" ry="9.7" fill="#cfe0f4" stroke="#000" stroke-width="1.05"/>
<path d="M54.9 85.0 Q57.6 80.2 62.3 80.7 Q67.0 80.2 69.7 85.0" fill="none" stroke="#000" stroke-width="1.0"/>
<path d="M57.3 87.1 L60.4 87.1" fill="none" stroke="#000" stroke-width="1.3"/>
<path d="M64.2 87.1 L67.3 87.1" fill="none" stroke="#000" stroke-width="1.3"/>
<path d="M62.3 88.6 L63.1 91.0 L61.8 91.3" fill="none" stroke="#000" stroke-width="0.9"/>
<path d="M60.0 92.7 L64.6 92.7" fill="none" stroke="#000" stroke-width="1.1"/>
<path d="M58.5 102 L64 102 L65 127 L61.3 130 L57.5 127 Z" fill="#cfe0f4" stroke="#000" stroke-width="1.1"/>
<path d="M58.0 105.0 L64.5 103.0" fill="none" stroke="#000" stroke-width="1.4"/>
<path d="M58.0 108.4 L64.5 106.4" fill="none" stroke="#000" stroke-width="1.4"/>
<path d="M58.0 111.8 L64.5 109.8" fill="none" stroke="#000" stroke-width="1.4"/>
<path d="M58.0 115.2 L64.5 113.2" fill="none" stroke="#000" stroke-width="1.4"/>
<path d="M58.0 118.6 L64.5 116.6" fill="none" stroke="#000" stroke-width="1.4"/>
<path d="M58.0 122.0 L64.5 120.0" fill="none" stroke="#000" stroke-width="1.4"/>
<path d="M58.0 125.4 L64.5 123.4" fill="none" stroke="#000" stroke-width="1.4"/>
<path d="M53.6 100.4 L56.3 127.6" fill="none" stroke="#000" stroke-width="1.0"/>
<path d="M70.0 100.4 L65.4 129.4" fill="none" stroke="#000" stroke-width="1.0"/>
<path d="M106.7 110.8 L106.7 112.8 C98.8 113.3 94.0 116.2 94.0 120.2 L93.3 155.0 L126.7 155.0 L126.0 120.2 C126.0 116.2 121.2 113.3 113.3 112.8 L113.3 110.8" fill="#cfe0f4" stroke="#000" stroke-width="1.05"/>
<path d="M98.5 121.2 L97.4 146.5" fill="none" stroke="#000" stroke-width="0.95"/>
<path d="M121.5 121.2 L122.6 146.5" fill="none" stroke="#000" stroke-width="0.95"/>
<path d="M105.7 111.8 L109.0 116.8 L110.0 114.4 L111.0 116.8 L114.3 111.8" fill="none" stroke="#000" stroke-width="1.1"/>
<path d="M110.0 114.4 L110.0 154.0" fill="none" stroke="#000" stroke-width="0.9"/>
<path d="M105.9 113.3 L103.5 125.8 L107.1 138.9" fill="none" stroke="#000" stroke-width="0.9"/>
<path d="M114.1 113.3 L116.5 125.8 L112.9 138.9" fill="none" stroke="#000" stroke-width="0.9"/>
<path d="M100.4 140.7 L102.1 149.6" fill="none" stroke="#000" stroke-width="0.9"/>
<path d="M115.8 135.4 L114.4 144.3" fill="none" stroke="#000" stroke-width="0.9"/>
<path d="M106.6 131.6 l2.6 0.9 l-0.7 2.6 z" fill="#000"/>
<path d="M106.7 106.8 L106.7 112.8" fill="none" stroke="#000" stroke-width="1.0"/>
<path d="M113.3 106.8 L113.3 112.8" fill="none" stroke="#000" stroke-width="1.0"/>
<ellipse cx="110.0" cy="100.5" rx="7.2" ry="9.1" fill="#cfe0f4" stroke="#000" stroke-width="1.05"/>
<path d="M102.8 97.8 C102.8 88.7 117.2 88.7 117.2 97.8 Z" fill="#000"/>
<rect x="106.7" y="91.9" width="6.5" height="3.6" fill="#cfe0f4"/>
<path d="M102.0 97.8 L118.7 97.8" fill="none" stroke="#000" stroke-width="1.6"/>
<path d="M105.4 101.0 L108.3 101.0" fill="none" stroke="#000" stroke-width="1.3"/>
<path d="M111.7 101.0 L114.6 101.0" fill="none" stroke="#000" stroke-width="1.3"/>
<path d="M110.0 102.5 L110.7 104.7 L109.6 105.0" fill="none" stroke="#000" stroke-width="0.9"/>
<path d="M107.8 106.3 L112.2 106.3" fill="none" stroke="#000" stroke-width="1.1"/>
<rect x="99.5" y="116.0" width="2" height="2" fill="#000"/>
<rect x="105.0" y="116.0" width="2" height="2" fill="#000"/>
<rect x="110.5" y="116.0" width="2" height="2" fill="#000"/>
<rect x="116.0" y="116.0" width="2" height="2" fill="#000"/>
<rect x="102.0" y="121.5" width="2" height="2" fill="#000"/>
<rect x="107.5" y="121.5" width="2" height="2" fill="#000"/>
<rect x="113.0" y="121.5" width="2" height="2" fill="#000"/>
<rect x="118.5" y="121.5" width="2" height="2" fill="#000"/>
<rect x="99.5" y="127.0" width="2" height="2" fill="#000"/>
<rect x="105.0" y="127.0" width="2" height="2" fill="#000"/>
<rect x="110.5" y="127.0" width="2" height="2" fill="#000"/>
<rect x="116.0" y="127.0" width="2" height="2" fill="#000"/>
<rect x="102.0" y="132.5" width="2" height="2" fill="#000"/>
<rect x="107.5" y="132.5" width="2" height="2" fill="#000"/>
<rect x="113.0" y="132.5" width="2" height="2" fill="#000"/>
<rect x="118.5" y="132.5" width="2" height="2" fill="#000"/>
<rect x="99.5" y="138.0" width="2" height="2" fill="#000"/>
<rect x="105.0" y="138.0" width="2" height="2" fill="#000"/>
<rect x="110.5" y="138.0" width="2" height="2" fill="#000"/>
<rect x="116.0" y="138.0" width="2" height="2" fill="#000"/>
<rect x="102.0" y="143.5" width="2" height="2" fill="#000"/>
<rect x="107.5" y="143.5" width="2" height="2" fill="#000"/>
<rect x="113.0" y="143.5" width="2" height="2" fill="#000"/>
<rect x="118.5" y="143.5" width="2" height="2" fill="#000"/>
<path d="M189.3 102.3 L189.3 104.3 C181.7 104.8 177.1 107.6 177.1 111.6 L176.4 155.0 L208.6 155.0 L207.9 111.6 C207.9 107.6 203.3 104.8 195.7 104.3 L195.7 102.3" fill="#cfe0f4" stroke="#000" stroke-width="1.05"/>
<path d="M181.4 112.6 L180.3 144.4" fill="none" stroke="#000" stroke-width="0.95"/>
<path d="M203.6 112.6 L204.7 144.4" fill="none" stroke="#000" stroke-width="0.95"/>
<path d="M188.3 103.3 L191.5 108.2 L192.5 105.9 L193.5 108.2 L196.7 103.3" fill="none" stroke="#000" stroke-width="1.1"/>
<path d="M192.5 105.9 L192.5 154.0" fill="none" stroke="#000" stroke-width="0.9"/>
<path d="M188.6 104.8 L186.2 116.9 L189.7 129.5" fill="none" stroke="#000" stroke-width="0.9"/>
<path d="M196.4 104.8 L198.8 116.9 L195.3 129.5" fill="none" stroke="#000" stroke-width="0.9"/>
<path d="M203.1 126.0 L202.7 135.5" fill="none" stroke="#000" stroke-width="0.9"/>
<path d="M197.5 118.4 L196.0 123.5" fill="none" stroke="#000" stroke-width="0.9"/>
<path d="M200.4 122.6 l2.5 0.8 l-0.7 2.5 z" fill="#000"/>
<path d="M189.3 98.6 L189.3 104.3" fill="none" stroke="#000" stroke-width="1.0"/>
<path d="M195.7 98.6 L195.7 104.3" fill="none" stroke="#000" stroke-width="1.0"/>
<ellipse cx="192.5" cy="92.5" rx="7.0" ry="8.8" fill="#cfe0f4" stroke="#000" stroke-width="1.05"/>
<path d="M185.5 89.4 C186.2 80.2 198.8 80.2 199.5 89.4 Z" fill="#cfe0f4" stroke="#000" stroke-width="1.0"/>
<path d="M184.1 89.4 L200.9 89.4" fill="none" stroke="#000" stroke-width="1.6"/>
<path d="M190.4 85.5 L194.6 85.5" fill="none" stroke="#000" stroke-width="1.0"/>
<path d="M188.0 93.0 L190.8 93.0" fill="none" stroke="#000" stroke-width="1.3"/>
<path d="M194.2 93.0 L197.0 93.0" fill="none" stroke="#000" stroke-width="1.3"/>
<path d="M192.5 94.4 L193.2 96.5 L192.1 96.9" fill="none" stroke="#000" stroke-width="0.9"/>
<path d="M190.4 98.1 L194.6 98.1" fill="none" stroke="#000" stroke-width="1.1"/>
<rect x="198.2" y="108.5" width="7" height="6" fill="none" stroke="#000" stroke-width="1.1"/>
<path d="M191 103 L194 103 L197.5 136 L195 139 L192.5 136 Z" fill="#cfe0f4" stroke="#000" stroke-width="1"/>
<path d="M228.1 108.2 L228.1 110.2 C219.9 110.7 215.0 113.7 215.0 117.7 L214.2 150.0 L248.8 150.0 L248.0 117.7 C248.0 113.7 243.1 110.7 234.9 110.2 L234.9 108.2" fill="#cfe0f4" stroke="#000" stroke-width="1.05"/>
<path d="M219.6 118.7 L218.4 142.2" fill="none" stroke="#000" stroke-width="0.95"/>
<path d="M243.4 118.7 L244.6 142.2" fill="none" stroke="#000" stroke-width="0.95"/>
<path d="M227.1 110.2 Q231.5 115.0 235.9 110.2" fill="none" stroke="#000" stroke-width="1.1"/>
<path d="M227.3 110.7 L224.8 123.7 L228.5 137.2" fill="none" stroke="#000" stroke-width="0.9"/>
<path d="M235.7 110.7 L238.2 123.7 L234.5 137.2" fill="none" stroke="#000" stroke-width="0.9"/>
<path d="M223.0 140.9 L225.2 149.4" fill="none" stroke="#000" stroke-width="0.9"/>
<path d="M227.9 133.6 L226.2 138.2" fill="none" stroke="#000" stroke-width="0.9"/>
<path d="M241.4 127.4 l2.7 0.9 l-0.8 2.7 z" fill="#000"/>
<path d="M228.1 104.1 L228.1 110.2" fill="none" stroke="#000" stroke-width="1.0"/>
<path d="M234.9 104.1 L234.9 110.2" fill="none" stroke="#000" stroke-width="1.0"/>
<ellipse cx="231.5" cy="97.5" rx="7.5" ry="9.4" fill="#cfe0f4" stroke="#000" stroke-width="1.05"/>
<circle cx="224.1" cy="96.1" r="2.4" fill="#cfe0f4" stroke="#000" stroke-width="1.1"/>
<circle cx="225.9" cy="91.6" r="2.4" fill="#cfe0f4" stroke="#000" stroke-width="1.1"/>
<circle cx="229.4" cy="88.9" r="2.4" fill="#cfe0f4" stroke="#000" stroke-width="1.1"/>
<circle cx="233.6" cy="88.9" r="2.4" fill="#cfe0f4" stroke="#000" stroke-width="1.1"/>
<circle cx="237.1" cy="91.6" r="2.4" fill="#cfe0f4" stroke="#000" stroke-width="1.1"/>
<circle cx="238.9" cy="96.1" r="2.4" fill="#cfe0f4" stroke="#000" stroke-width="1.1"/>
<path d="M225.5 94.2 L237.5 94.2" fill="none" stroke="#000" stroke-width="1.0"/>
<path d="M226.7 98.1 L229.7 98.1" fill="none" stroke="#000" stroke-width="1.3"/>
<path d="M233.3 98.1 L236.3 98.1" fill="none" stroke="#000" stroke-width="1.3"/>
<path d="M231.5 99.6 L232.2 101.8 L231.1 102.2" fill="none" stroke="#000" stroke-width="0.9"/>
<path d="M229.2 103.5 L233.8 103.5" fill="none" stroke="#000" stroke-width="1.1"/>
<circle cx="226" cy="88" r="1.6" fill="#000"/>
<circle cx="231" cy="86" r="1.6" fill="#000"/>
<circle cx="236.5" cy="87.5" r="1.6" fill="#000"/>
<circle cx="224" cy="92.5" r="1.6" fill="#000"/>
<path d="M216 113 L219 116.5 L222 114 L221.5 122 L224.5 126 L220.5 127.5 L222.5 134.5 L217.5 130.5 L214.5 132.5 L216.5 124 L213.5 120 Z" fill="#000"/>
<path d="M144.6 115.7 L144.6 117.7 C136.4 118.2 131.5 121.2 131.5 125.2 L130.8 165.0 L165.2 165.0 L164.5 125.2 C164.5 121.2 159.6 118.2 151.4 117.7 L151.4 115.7" fill="#cfe0f4" stroke="#000" stroke-width="1.05"/>
<path d="M136.1 126.2 L134.9 155.3" fill="none" stroke="#000" stroke-width="0.95"/>
<path d="M159.9 126.2 L161.1 155.3" fill="none" stroke="#000" stroke-width="0.95"/>
<path d="M143.6 116.7 L147.0 121.8 L148.0 119.4 L149.0 121.8 L152.4 116.7" fill="none" stroke="#000" stroke-width="1.1"/>
<path d="M148.0 119.4 L148.0 164.0" fill="none" stroke="#000" stroke-width="0.9"/>
<path d="M143.8 118.2 L141.2 131.2 L145.0 144.7" fill="none" stroke="#000" stroke-width="0.9"/>
<path d="M152.2 118.2 L154.8 131.2 L151.0 144.7" fill="none" stroke="#000" stroke-width="0.9"/>
<path d="M148.6 158.3 L148.3 168.0" fill="none" stroke="#000" stroke-width="0.9"/>
<path d="M155.8 133.8 L154.7 140.1" fill="none" stroke="#000" stroke-width="0.9"/>
<path d="M142.6 134.0 l2.7 0.9 l-0.8 2.7 z" fill="#000"/>
<path d="M144.6 111.6 L144.6 117.7" fill="none" stroke="#000" stroke-width="1.0"/>
<path d="M151.4 111.6 L151.4 117.7" fill="none" stroke="#000" stroke-width="1.0"/>
<ellipse cx="148.0" cy="105.0" rx="7.5" ry="9.4" fill="#cfe0f4" stroke="#000" stroke-width="1.05"/>
<path d="M140.1 105.5 C139.8 94.2 156.2 94.2 155.9 105.5 L154.4 103.1 Q148.0 99.4 141.6 103.1 Z" fill="#000"/>
<path d="M143.2 105.6 L146.2 105.6" fill="none" stroke="#000" stroke-width="1.3"/>
<path d="M149.8 105.6 L152.8 105.6" fill="none" stroke="#000" stroke-width="1.3"/>
<path d="M148.0 107.1 L148.8 109.3 L147.6 109.7" fill="none" stroke="#000" stroke-width="0.9"/>
<path d="M144.7 110.1 Q148.0 108.8 151.3 110.1 L151.0 111.6 Q148.0 110.6 145.0 111.6 Z" fill="#000"/>
<path d="M71.1 133.6 L71.1 135.6 C64.4 136.1 60.2 138.4 60.2 142.4 L59.6 170.0 L88.4 170.0 L87.8 142.4 C87.8 138.4 83.6 136.1 76.9 135.6 L76.9 133.6" fill="#cfe0f4" stroke="#000" stroke-width="1.05"/>
<path d="M64.1 143.4 L63.1 163.3" fill="none" stroke="#000" stroke-width="0.95"/>
<path d="M83.9 143.4 L84.9 163.3" fill="none" stroke="#000" stroke-width="0.95"/>
<path d="M70.1 135.6 L74.0 142.1 L77.9 135.6" fill="none" stroke="#000" stroke-width="1.1"/>
<path d="M70.5 136.1 L68.4 146.8 L71.5 158.1" fill="none" stroke="#000" stroke-width="0.9"/>
<path d="M77.5 136.1 L79.6 146.8 L76.5 158.1" fill="none" stroke="#000" stroke-width="0.9"/>
<path d="M69.2 152.8 L67.8 161.1" fill="none" stroke="#000" stroke-width="0.9"/>
<path d="M71.1 153.7 L71.4 162.0" fill="none" stroke="#000" stroke-width="0.9"/>
<path d="M72.6 153.3 l2.2 0.8 l-0.6 2.2 z" fill="#000"/>
<path d="M71.1 130.5 L71.1 135.6" fill="none" stroke="#000" stroke-width="1.0"/>
<path d="M76.9 130.5 L76.9 135.6" fill="none" stroke="#000" stroke-width="1.0"/>
<ellipse cx="74.0" cy="125.0" rx="6.2" ry="7.8" fill="#cfe0f4" stroke="#000" stroke-width="1.05"/>
<path d="M68.1 123.8 Q70.2 119.9 74.0 120.3 Q77.8 119.9 79.9 123.8" fill="none" stroke="#000" stroke-width="1.0"/>
<path d="M70.0 125.5 L72.5 125.5" fill="none" stroke="#000" stroke-width="1.3"/>
<path d="M75.5 125.5 L78.0 125.5" fill="none" stroke="#000" stroke-width="1.3"/>
<path d="M74.0 126.7 L74.6 128.6 L73.6 128.9" fill="none" stroke="#000" stroke-width="0.9"/>
<path d="M72.1 130.0 L75.9 130.0" fill="none" stroke="#000" stroke-width="1.1"/><path d="M239 232 L238.4 262 L235.5 268 Q236 271 241.6 270.5 L244.8 263 L245 232 Z" fill="#cfe0f4" stroke="#000" stroke-width="1.05" stroke-linejoin="round"/>
<path d="M247 232 L248 258 L248.5 267 Q252 270 257 269 L255.5 261 L255.5 232 Z" fill="#cfe0f4" stroke="#000" stroke-width="1.05" stroke-linejoin="round"/>
<path d="M237.5 207 L236.8 233.5 L261.8 233.5 L261 207 Z" fill="#cfe0f4" stroke="#000" stroke-width="1.05" stroke-linejoin="round"/>
<path d="M240 214 L240 233" fill="none" stroke="#000" stroke-width="0.9" stroke-linecap="round" stroke-linejoin="round"/>
<path d="M242.5 214 L242.5 233" fill="none" stroke="#000" stroke-width="0.9" stroke-linecap="round" stroke-linejoin="round"/>
<path d="M245 214 L245 233" fill="none" stroke="#000" stroke-width="0.9" stroke-linecap="round" stroke-linejoin="round"/>
<path d="M247.5 214 L247.5 233" fill="none" stroke="#000" stroke-width="0.9" stroke-linecap="round" stroke-linejoin="round"/>
<path d="M250 214 L250 233" fill="none" stroke="#000" stroke-width="0.9" stroke-linecap="round" stroke-linejoin="round"/>
<path d="M252.5 214 L252.5 233" fill="none" stroke="#000" stroke-width="0.9" stroke-linecap="round" stroke-linejoin="round"/>
<path d="M255 214 L255 233" fill="none" stroke="#000" stroke-width="0.9" stroke-linecap="round" stroke-linejoin="round"/>
<path d="M257.5 214 L257.5 233" fill="none" stroke="#000" stroke-width="0.9" stroke-linecap="round" stroke-linejoin="round"/>
<path d="M260 214 L260 233" fill="none" stroke="#000" stroke-width="0.9" stroke-linecap="round" stroke-linejoin="round"/>
<path d="M238 141 C233 142 229.5 143.5 228.5 147 L226 176 L225 200 L236 208 L263 208 L267.6 199.6 L263.6 147 C262 144 258 142.5 251 141.5 Z" fill="#cfe0f4" stroke="#000" stroke-width="1.05" stroke-linejoin="round"/>
<path d="M236.3 143.5 L244.4 179.5 L245 207" fill="none" stroke="#000" stroke-width="1.0" stroke-linecap="round" stroke-linejoin="round"/>
<path d="M254.5 143.5 L250.5 179.5" fill="none" stroke="#000" stroke-width="1.0" stroke-linecap="round" stroke-linejoin="round"/>
<path d="M240.5 146 L244 152 L247.5 146" fill="none" stroke="#000" stroke-width="1.0" stroke-linecap="round" stroke-linejoin="round"/>
<path d="M259.5 165.4 L260.5 199.6" fill="none" stroke="#000" stroke-width="1.0" stroke-linecap="round" stroke-linejoin="round"/>
<path d="M254.5 194 Q258 190 262.5 193 L262 207 L255 207 Z" fill="none" stroke="#000" stroke-width="1.0" stroke-linecap="round" stroke-linejoin="round"/>
<path d="M258.5 171.4 L262.5 172 L262 175.5 L258.5 175 Z" fill="#000"/>
<path d="M255 203 L261 202 L260 207 L256 207 Z" fill="#000"/>
<path d="M239 134 L239 142 L248 142 L248 134 Z" fill="#cfe0f4" stroke="#000" stroke-width="1.0" stroke-linejoin="round"/>
<ellipse cx="243.5" cy="129.8" rx="7.3" ry="8.2" fill="#cfe0f4" stroke="#000" stroke-width="1.05"/>
<path d="M233.5 134 C231 119 237 114.5 243.5 114.7 C250 114.7 255 119 253.4 131 L251.8 130.5 C251.5 125 249 121.8 243.5 122.3 C238 122.3 235.5 125 235 134 Z" fill="#000"/>
<path d="M239.0 130.2 L241.8 130.2" fill="none" stroke="#000" stroke-width="1.3"/>
<path d="M245.2 130.2 L248.0 130.2" fill="none" stroke="#000" stroke-width="1.3"/>
<path d="M243.5 131.4 L244.2 133.2 L243.1 133.5" fill="none" stroke="#000" stroke-width="0.9"/>
<path d="M241.4 134.6 L245.6 134.6" fill="none" stroke="#000" stroke-width="1.1"/>
<path d="M160 194 L150.5 281 L163 281 L168.5 212 L172.5 281 L187.5 281 L189.5 194 Z" fill="#cfe0f4" stroke="#000" stroke-width="1.05" stroke-linejoin="round"/>
<path d="M168.5 212 L168.5 200" fill="none" stroke="#000" stroke-width="1.0" stroke-linecap="round" stroke-linejoin="round"/>
<path d="M156 215 L154 262" fill="none" stroke="#000" stroke-width="0.9" stroke-linecap="round" stroke-linejoin="round"/>
<path d="M183.5 208 L184.4 278" fill="none" stroke="#000" stroke-width="0.9" stroke-linecap="round" stroke-linejoin="round"/>
<path d="M149 280 Q146 288 152 289 L161 288.5 Q163.5 286 163 280 Z" fill="#cfe0f4" stroke="#000" stroke-width="1.05" stroke-linejoin="round"/>
<path d="M172.5 279 Q171 286 175 286.5 L186 286.5 Q188.5 284 187.4 278 Z" fill="#cfe0f4" stroke="#000" stroke-width="1.05" stroke-linejoin="round"/>
<path d="M160 142.5 C153 145 148 147 146 150.5 L148 175 L151 194 L190 195 L197.5 194.7 L193.5 150.3 C191 147 186 144.5 179 142.5 Z" fill="#cfe0f4" stroke="#000" stroke-width="1.05" stroke-linejoin="round"/>
<path d="M188.4 160.4 L189.4 190.7" fill="none" stroke="#000" stroke-width="1.0" stroke-linecap="round" stroke-linejoin="round"/>
<path d="M160.2 190.7 L189.4 190.7 L189.4 194.7 L160.2 194.7 Z" fill="#000"/>
<path d="M159 142 L163 150.3 L168.5 145 L174 150.3 L179.5 142" fill="none" stroke="#000" stroke-width="1.0" stroke-linecap="round" stroke-linejoin="round"/>
<path d="M168.5 145 L168.5 158" fill="none" stroke="#000" stroke-width="1.0" stroke-linecap="round" stroke-linejoin="round"/>
<path d="M163 138 L163 144 L174 144 L174 138 Z" fill="#cfe0f4" stroke="#000" stroke-width="1.0" stroke-linejoin="round"/>
<path d="M157.5 119 Q157.5 112.2 168 112.2 Q178.5 112.2 178.5 119 L178 131 Q176.5 141.2 168 141.2 Q159.5 141.2 158 131 Z" fill="#cfe0f4" stroke="#000" stroke-width="1.05" stroke-linejoin="round"/>
<path d="M158 116.5 L178 116.5" fill="none" stroke="#000" stroke-width="1.0" stroke-linecap="round" stroke-linejoin="round"/>
<path d="M157.5 124 Q155.5 127 157.8 130" fill="none" stroke="#000" stroke-width="1.0" stroke-linecap="round" stroke-linejoin="round"/>
<path d="M178.3 124 Q180.5 127 178.2 130" fill="none" stroke="#000" stroke-width="1.0" stroke-linecap="round" stroke-linejoin="round"/>
<path d="M161.8 128.6 L165.8 128.6" fill="none" stroke="#000" stroke-width="1.3"/>
<path d="M170.6 128.6 L174.6 128.6" fill="none" stroke="#000" stroke-width="1.3"/>
<path d="M168.2 130.3 L169.2 133.0 L167.6 133.4" fill="none" stroke="#000" stroke-width="0.9"/>
<path d="M163.8 133.8 Q168.2 132.3 172.6 133.8 L172.2 135.6 Q168.2 134.5 164.2 135.6 Z" fill="#000"/>
<path d="M84 139 C78 140 74 141 72.6 143 L72 175 L106 175 L105.3 143 C103 141 99 140 95 139 Z" fill="#cfe0f4" stroke="#000" stroke-width="1.05" stroke-linejoin="round"/>
<path d="M90.8 141 L89.5 152 L91 155 L92.5 152 Z" fill="none" stroke="#000" stroke-width="1.0" stroke-linecap="round" stroke-linejoin="round"/>
<path d="M85 139 L89 145 L90.8 141 L92.6 145 L96 139" fill="none" stroke="#000" stroke-width="1.0" stroke-linecap="round" stroke-linejoin="round"/>
<path d="M85.5 134 L85.5 141 L93.5 141 L93.5 134 Z" fill="#cfe0f4" stroke="#000" stroke-width="1.0" stroke-linejoin="round"/>
<ellipse cx="89.4" cy="127.6" rx="8.6" ry="11.0" fill="#cfe0f4" stroke="#000" stroke-width="1.05"/>
<path d="M80.8 127 C80 118 85 115.5 89.4 115.8 C94 115.5 99 118 98 127 L96.5 124 Q89.4 121 82.3 124 Z" fill="#000"/>
<path d="M84.0 128.1 L87.4 128.1" fill="none" stroke="#000" stroke-width="1.3"/>
<path d="M91.4 128.1 L94.8 128.1" fill="none" stroke="#000" stroke-width="1.3"/>
<path d="M89.4 129.7 L90.2 132.1 L88.9 132.5" fill="none" stroke="#000" stroke-width="0.9"/>
<path d="M85.7 132.9 Q89.4 131.5 93.1 132.9 L92.8 134.5 Q89.4 133.5 86.0 134.5 Z" fill="#000"/>
<path d="M35 250 L35.5 270 L27 274 Q25 278 30 278.5 L40 275.5 L41.5 250 Z" fill="#cfe0f4" stroke="#000" stroke-width="1.05" stroke-linejoin="round"/>
<path d="M43.5 250 L44.5 278 L37 284 Q37 289 42 288.6 L50.4 281 L50 250 Z" fill="#cfe0f4" stroke="#000" stroke-width="1.05" stroke-linejoin="round"/>
<path d="M26 211 L25 249 Q40 252 62.6 249.5 L62 211 Z" fill="#cfe0f4" stroke="#000" stroke-width="1.05" stroke-linejoin="round"/>
<path d="M48.3 214 L48.3 247" fill="none" stroke="#000" stroke-width="0.9" stroke-linecap="round" stroke-linejoin="round"/>
<path d="M31 216 L31 246" fill="none" stroke="#000" stroke-width="0.9" stroke-linecap="round" stroke-linejoin="round"/>
<path d="M57 216 L58 246" fill="none" stroke="#000" stroke-width="0.9" stroke-linecap="round" stroke-linejoin="round"/>
<path d="M30 212 L35 212 L33 222 Z" fill="#000"/>
<path d="M52 212 L60 212 L57 224 Z" fill="#000"/>
<path d="M40 151 C34 151.5 29.5 152 28 153.5 L25 190.6 L23.5 212 L66 212 L65.4 150.3 C62 149.5 56 149.8 51 150.5 Z" fill="#cfe0f4" stroke="#000" stroke-width="1.05" stroke-linejoin="round"/>
<path d="M39.2 154.3 L41.2 180.5" fill="none" stroke="#000" stroke-width="1.0" stroke-linecap="round" stroke-linejoin="round"/>
<path d="M49.3 154.3 L45.3 178.5" fill="none" stroke="#000" stroke-width="1.0" stroke-linecap="round" stroke-linejoin="round"/>
<path d="M29 180 Q45 176 61.4 178.5 L62 187 Q46 185 29.5 189 Z" fill="#cfe0f4" stroke="#000" stroke-width="1.05" stroke-linejoin="round"/>
<path d="M52 177 L57 178 L56 182 L52 181 Z" fill="#000"/>
<path d="M41.5 188 L65 187.5 L66 211 L42.5 212 Z" fill="#cfe0f4" stroke="#000" stroke-width="1.05" stroke-linejoin="round"/>
<path d="M49.8 193.3 L60.4 193.3 L60.4 201.6 L55 201.6 L55 197 L49.8 197 Z" fill="none" stroke="#000" stroke-width="1.0" stroke-linecap="round" stroke-linejoin="round"/>
<path d="M22 189 Q20 200 23 210 L30 212 L33 200 L32 189 Z" fill="#cfe0f4" stroke="#000" stroke-width="1.0" stroke-linejoin="round"/>
<path d="M64 160 L67 158 L68 210 L65.5 212 Z" fill="#000"/>
<path d="M41 146 L41 153 L51 153 L51 146 Z" fill="#cfe0f4" stroke="#000" stroke-width="1.0" stroke-linejoin="round"/>
<ellipse cx="46.2" cy="140.0" rx="8.0" ry="8.7" fill="#cfe0f4" stroke="#000" stroke-width="1.05"/>
<path d="M37.6 134.1 Q35.2 132.0 37.4 129.6 Q36.5 126.5 39.7 125.6 Q40.6 122.5 43.8 123.3 Q46.2 121.0 48.6 123.3 Q51.8 122.5 52.7 125.6 Q55.9 126.5 55.0 129.6 Q57.2 132.0 54.8 134.1 Z" fill="#cfe0f4" stroke="#000" stroke-width="1.0" stroke-linejoin="round"/>
<path d="M40 129 q2 -2 4 0 M47 127 q2 -2 4 0 M43 132 q2 -1.5 4 0" fill="none" stroke="#000" stroke-width="0.9" stroke-linecap="round" stroke-linejoin="round"/>
<path d="M41.1 140.7 L44.3 140.7" fill="none" stroke="#000" stroke-width="1.3"/>
<path d="M48.1 140.7 L51.3 140.7" fill="none" stroke="#000" stroke-width="1.3"/>
<path d="M46.2 142.0 L47.0 144.1 L45.7 144.4" fill="none" stroke="#000" stroke-width="0.9"/>
<path d="M43.8 145.6 L48.6 145.6" fill="none" stroke="#000" stroke-width="1.1"/>
<rect x="40.0" y="139.5" width="5.4" height="2.4" fill="none" stroke="#000" stroke-width="0.9"/>
<rect x="47.0" y="139.5" width="5.4" height="2.4" fill="none" stroke="#000" stroke-width="0.9"/>
<path d="M111 206 L109.4 240 L110 298.5 L126.6 298.5 L128.5 232 L131.5 298.5 L146 298.5 L148 236 L150.5 206 Z" fill="#cfe0f4" stroke="#000" stroke-width="1.05" stroke-linejoin="round"/>
<path d="M128.5 232 L128.5 212" fill="none" stroke="#000" stroke-width="1.0" stroke-linecap="round" stroke-linejoin="round"/>
<path d="M118 240 L119 290" fill="none" stroke="#000" stroke-width="0.8" stroke-linecap="round" stroke-linejoin="round"/>
<path d="M139 240 L140 290" fill="none" stroke="#000" stroke-width="0.8" stroke-linecap="round" stroke-linejoin="round"/>
<path d="M105.4 302 Q106 297 111 298 L124 298 Q126 303 124.6 306 L116 309.6 L108 309.6 Q104.5 307 105.4 302 Z" fill="#000"/>
<path d="M133 301 Q133.5 297 138 298 L146 298 L145.5 309.6 L137 309.6 Q132.5 307 133 301 Z" fill="#000"/>
<path d="M120 151.3 C113 154 107 157 105 161.4 L103 179.6 L109 181 L109 207 L150.5 207 L150.5 188 L159.6 187.6 L153.5 159.4 C150 156 145 153.5 140.4 152.3 Z" fill="#cfe0f4" stroke="#000" stroke-width="1.05" stroke-linejoin="round"/>
<path d="M109 181 L110 179.6" fill="none" stroke="#000" stroke-width="1.0" stroke-linecap="round" stroke-linejoin="round"/>
<path d="M150.5 163.4 L150.5 187.6" fill="none" stroke="#000" stroke-width="1.0" stroke-linecap="round" stroke-linejoin="round"/>
<path d="M109 175.5 L109 182" fill="none" stroke="#000" stroke-width="1.0" stroke-linecap="round" stroke-linejoin="round"/>
<path d="M109 206 L150.5 206 L150.5 209.6 L109 209.6 Z" fill="#000"/>
<path d="M103 181 L100 215 L104 236 L109 236 L109 181 Z" fill="#cfe0f4" stroke="#000" stroke-width="1.1" stroke-linejoin="round"/>
<path d="M150.5 188 L150 226 L141 229 L141 236.4 L150 236.4 L157 228 L159.6 188 Z" fill="#cfe0f4" stroke="#000" stroke-width="1.1" stroke-linejoin="round"/>
<path d="M120.2 151.3 Q129.3 164 140.4 152.3" fill="none" stroke="#000" stroke-width="1.2" stroke-linecap="round" stroke-linejoin="round"/>
<path d="M122 152.5 Q129.3 161.5 138.6 153.5" fill="none" stroke="#000" stroke-width="1.0" stroke-linecap="round" stroke-linejoin="round"/>
<path d="M122 145 L122 153 L137 153 L137 145 Z" fill="#cfe0f4" stroke="#000" stroke-width="1.0" stroke-linejoin="round"/>
<ellipse cx="128.8" cy="139.5" rx="10.2" ry="13.8" fill="#cfe0f4" stroke="#000" stroke-width="1.05"/>
<path d="M118.2 137 C117 126 122 124.5 128.5 124.5 C135 124.5 139.5 126 138.6 137 L137 133 C136 129.5 132 128.5 128.5 128.5 C124.5 128.5 120.5 129.5 119.8 133 Z" fill="#000"/>
<path d="M122.4 139.6 L126.4 139.6" fill="none" stroke="#000" stroke-width="1.3"/>
<path d="M131.2 139.6 L135.2 139.6" fill="none" stroke="#000" stroke-width="1.3"/>
<path d="M128.8 141.3 L129.8 144.0 L128.2 144.4" fill="none" stroke="#000" stroke-width="0.9"/>
<path d="M125.8 145.9 L131.8 145.9" fill="none" stroke="#000" stroke-width="1.1"/>
<path d="M136 146 L144 140 L157.5 139 L158 143 L150 147 L142 153 L138 153 Z" fill="#000"/>
<path d="M139.4 121 L148 115 L155.5 118 L150 124 L141 127 Z" fill="#000"/>
<path d="M203 272 L203.5 306 L196 312 Q195 319 200 318.5 L213 313 L210.5 272 Z" fill="#cfe0f4" stroke="#000" stroke-width="1.05" stroke-linejoin="round"/>
<path d="M215 272 L216 309 L210 318 Q210 325 216 325 L225 315 L225.5 272 Z" fill="#cfe0f4" stroke="#000" stroke-width="1.05" stroke-linejoin="round"/>
<path d="M198 245 L200 273 Q214 276 229 273 L229 245 Z" fill="#cfe0f4" stroke="#000" stroke-width="1.05" stroke-linejoin="round"/>
<path d="M204 176 C199 177 197 179 196 183.5 L193.4 236.4 L194.4 246.5 L232.7 246.5 L237.4 215 L230.3 181.5 C229 179 226 177.5 222 176.5 Z" fill="#cfe0f4" stroke="#000" stroke-width="1.05" stroke-linejoin="round"/>
<path d="M199 195 L199.5 238" fill="none" stroke="#000" stroke-width="1.0" stroke-linecap="round" stroke-linejoin="round"/>
<path d="M226 195 L224 236" fill="none" stroke="#000" stroke-width="1.0" stroke-linecap="round" stroke-linejoin="round"/>
<path d="M212 190 L213 246" fill="none" stroke="#000" stroke-width="0.9" stroke-linecap="round" stroke-linejoin="round"/>
<path d="M218.6 238 Q220 250 226 251 L232.7 248 L233 238 Z" fill="#cfe0f4" stroke="#000" stroke-width="1.0" stroke-linejoin="round"/>
<path d="M226.3 166 L234.3 167 L233 179.5 L228 178 Z" fill="#000"/>
<path d="M203 176 L207 189.6 L212 182 L217.5 189.6 L222.5 176.5" fill="none" stroke="#000" stroke-width="1.0" stroke-linecap="round" stroke-linejoin="round"/>
<path d="M208 171 L208 179 L218.5 179 L218.5 171 Z" fill="#cfe0f4" stroke="#000" stroke-width="1.0" stroke-linejoin="round"/>
<ellipse cx="212.6" cy="164.5" rx="7.8" ry="9.6" fill="#cfe0f4" stroke="#000" stroke-width="1.05"/>
<path d="M201.5 172 C199 160 201 149 208 146.5 C214 144.5 222 145 226 149 C228.5 152 228.5 156 227 160 L224 158 C222 154 217 153.5 212 154.5 C208 155 205.5 158 204.5 163 L203.5 172 Z" fill="#000"/>
<circle cx="204" cy="150.5" r="2.4" fill="#000"/>
<circle cx="209" cy="147" r="2.4" fill="#000"/>
<circle cx="214.5" cy="146" r="2.4" fill="#000"/>
<circle cx="220" cy="146.5" r="2.4" fill="#000"/>
<circle cx="225" cy="149.5" r="2.2" fill="#000"/>
<circle cx="206" cy="151" r="1.1" fill="#cfe0f4"/>
<circle cx="211" cy="149.5" r="1.1" fill="#cfe0f4"/>
<circle cx="217" cy="149.5" r="1.1" fill="#cfe0f4"/>
<circle cx="222" cy="151.5" r="1.1" fill="#cfe0f4"/>
<path d="M214.0 141.5 L219.0 149" fill="none" stroke="#000" stroke-width="1.1" stroke-linecap="round" stroke-linejoin="round"/>
<path d="M217.5 141.5 L222.5 149" fill="none" stroke="#000" stroke-width="1.1" stroke-linecap="round" stroke-linejoin="round"/>
<path d="M221.0 141.5 L226.0 149" fill="none" stroke="#000" stroke-width="1.1" stroke-linecap="round" stroke-linejoin="round"/>
<path d="M224.5 141.5 L229.5 149" fill="none" stroke="#000" stroke-width="1.1" stroke-linecap="round" stroke-linejoin="round"/>
<path d="M228.0 141.5 L233.0 149" fill="none" stroke="#000" stroke-width="1.1" stroke-linecap="round" stroke-linejoin="round"/>
<path d="M214 143 L232 143.5" fill="none" stroke="#000" stroke-width="1.0" stroke-linecap="round" stroke-linejoin="round"/>
<path d="M216 147 L231 147.5" fill="none" stroke="#000" stroke-width="1.0" stroke-linecap="round" stroke-linejoin="round"/>
<path d="M207.8 165.7 L210.8 165.7" fill="none" stroke="#000" stroke-width="1.3"/>
<path d="M214.4 165.7 L217.4 165.7" fill="none" stroke="#000" stroke-width="1.3"/>
<path d="M212.6 167.0 L213.3 169.1 L212.2 169.4" fill="none" stroke="#000" stroke-width="0.9"/>
<path d="M210.3 170.6 L214.8 170.6" fill="none" stroke="#000" stroke-width="1.1"/>
<path d="M76 250 L82.2 328.8 L82 334 Q84 339 88 338.5 L93 331 L93.3 262 L95.3 290 L97.3 320.7 L95 325 Q97 330 103 329 L111.4 326 Q110 321 104 319.7 L99.3 320.7 L106.4 250 Z" fill="#cfe0f4" stroke="#000" stroke-width="1.05" stroke-linejoin="round"/>
<path d="M93.3 262 L92.8 252" fill="none" stroke="#000" stroke-width="1.0" stroke-linecap="round" stroke-linejoin="round"/>
<path d="M80 183 C74 184.5 69.5 186.5 68 188.4 L73 245 L76 252 L97.3 252 L108.4 242 L106.4 185.3 C104.5 184 103 183.5 101.4 183.3 Z" fill="#cfe0f4" stroke="#000" stroke-width="1.05" stroke-linejoin="round"/>
<path d="M80 183 L93.3 211.6 L97.3 245" fill="none" stroke="#000" stroke-width="1.0" stroke-linecap="round" stroke-linejoin="round"/>
<path d="M101.4 183.3 L95.3 211.6" fill="none" stroke="#000" stroke-width="1.0" stroke-linecap="round" stroke-linejoin="round"/>
<path d="M76.1 191.4 L74 221.7" fill="none" stroke="#000" stroke-width="1.0" stroke-linecap="round" stroke-linejoin="round"/>
<path d="M103.4 195.4 L106.4 229.7" fill="none" stroke="#000" stroke-width="1.0" stroke-linecap="round" stroke-linejoin="round"/>
<path d="M72 219.6 Q70 227 76 229 L82 226 L81 219.6 Z" fill="#cfe0f4" stroke="#000" stroke-width="1.0" stroke-linejoin="round"/>
<path d="M106 226 Q110 235 118.5 233.8 L117 227 L110.4 225.7 Z" fill="#cfe0f4" stroke="#000" stroke-width="1.0" stroke-linejoin="round"/>
<path d="M71 241 Q70 250 77 250 L84 248 L82 241 Z" fill="#cfe0f4" stroke="#000" stroke-width="1.0" stroke-linejoin="round"/>
<path d="M84 187 Q90.5 192 97 187" fill="none" stroke="#000" stroke-width="1.0" stroke-linecap="round" stroke-linejoin="round"/>
<path d="M77.1 181 C74.5 170 75 158 83 154.5 C90 151.5 100 153 101.8 163 C103 170 102 176 100.3 181 Z" fill="#cfe0f4" stroke="#000" stroke-width="1.05" stroke-linejoin="round"/>
<path d="M84.5 176 L84.5 184 L96 184 L96 176 Z" fill="#cfe0f4" stroke="#000" stroke-width="1.0" stroke-linejoin="round"/>
<ellipse cx="90.2" cy="170.5" rx="7.6" ry="9.6" fill="#cfe0f4" stroke="#000" stroke-width="1.05"/>
<path d="M82.6 170 Q83 160 91 160 Q97 160.5 98 163 Q93 162 89 166" fill="none" stroke="#000" stroke-width="1.1" stroke-linecap="round" stroke-linejoin="round"/>
<path d="M66 175 L72 176 L72 185 L68 186 Z" fill="#000"/>
<path d="M85.7 171.7 L88.7 171.7" fill="none" stroke="#000" stroke-width="1.3"/>
<path d="M92.3 171.7 L95.3 171.7" fill="none" stroke="#000" stroke-width="1.3"/>
<path d="M90.5 173.0 L91.2 175.1 L90.0 175.4" fill="none" stroke="#000" stroke-width="0.9"/>
<path d="M88.2 176.6 L92.8 176.6" fill="none" stroke="#000" stroke-width="1.1"/></g>
<text x="296.46" y="113.80" font-size="28.6" textLength="47.09" lengthAdjust="spacingAndGlyphs" fill="#231f20">SRS</text><text x="350.73" y="113.80" font-size="28.6" textLength="23.33" lengthAdjust="spacingAndGlyphs" fill="#231f20">of</text><text x="381.41" y="113.80" font-size="28.6" textLength="44.09" lengthAdjust="spacingAndGlyphs" fill="#231f20">size</text><text x="432.27" y="113.80" font-size="28.6" font-style="italic" textLength="14.52" lengthAdjust="spacingAndGlyphs" fill="#231f20">n</text><text x="510.91" y="133.90" font-size="28" font-style="italic" textLength="12.65" lengthAdjust="spacingAndGlyphs" fill="#231f20">x</text><text x="296.46" y="168.55" font-size="28.6" textLength="47.09" lengthAdjust="spacingAndGlyphs" fill="#231f20">SRS</text><text x="350.73" y="168.55" font-size="28.6" textLength="23.33" lengthAdjust="spacingAndGlyphs" fill="#231f20">of</text><text x="381.41" y="168.55" font-size="28.6" textLength="44.09" lengthAdjust="spacingAndGlyphs" fill="#231f20">size</text><text x="432.27" y="168.55" font-size="28.6" font-style="italic" textLength="14.52" lengthAdjust="spacingAndGlyphs" fill="#231f20">n</text><text x="510.91" y="188.90" font-size="28" font-style="italic" textLength="12.65" lengthAdjust="spacingAndGlyphs" fill="#231f20">x</text><text x="296.46" y="223.30" font-size="28.6" textLength="47.09" lengthAdjust="spacingAndGlyphs" fill="#231f20">SRS</text><text x="350.73" y="223.30" font-size="28.6" textLength="23.33" lengthAdjust="spacingAndGlyphs" fill="#231f20">of</text><text x="381.41" y="223.30" font-size="28.6" textLength="44.09" lengthAdjust="spacingAndGlyphs" fill="#231f20">size</text><text x="432.27" y="223.30" font-size="28.6" font-style="italic" textLength="14.52" lengthAdjust="spacingAndGlyphs" fill="#231f20">n</text><text x="510.91" y="246.80" font-size="28" font-style="italic" textLength="12.65" lengthAdjust="spacingAndGlyphs" fill="#231f20">x</text><text x="60.02" y="389.10" font-size="28.6" font-weight="bold" textLength="15.79" lengthAdjust="spacingAndGlyphs" fill="#000">P</text><text x="76.13" y="389.10" font-size="28.6" font-weight="bold" textLength="18.36" lengthAdjust="spacingAndGlyphs" fill="#000">O</text><text x="99.38" y="389.10" font-size="28.6" font-weight="bold" textLength="15.20" lengthAdjust="spacingAndGlyphs" fill="#000">P</text><text x="115.77" y="389.10" font-size="28.6" font-weight="bold" textLength="17.18" lengthAdjust="spacingAndGlyphs" fill="#000">U</text><text x="135.07" y="389.10" font-size="28.6" font-weight="bold" textLength="15.83" lengthAdjust="spacingAndGlyphs" fill="#000">L</text><text x="150.24" y="389.10" font-size="28.6" font-weight="bold" textLength="19.27" lengthAdjust="spacingAndGlyphs" fill="#000">A</text><text x="170.40" y="389.10" font-size="28.6" font-weight="bold" textLength="16.08" lengthAdjust="spacingAndGlyphs" fill="#000">T</text><text x="186.26" y="389.10" font-size="28.6" font-weight="bold" textLength="8.49" lengthAdjust="spacingAndGlyphs" fill="#000">I</text><text x="194.46" y="389.10" font-size="28.6" font-weight="bold" textLength="19.70" lengthAdjust="spacingAndGlyphs" fill="#000">O</text><text x="216.28" y="389.10" font-size="28.6" font-weight="bold" textLength="19.65" lengthAdjust="spacingAndGlyphs" fill="#000">N</text><text x="39.87" y="417.90" font-size="28.6" font-weight="bold" textLength="115.15" lengthAdjust="spacingAndGlyphs" fill="#000">unknown</text><text x="162.11" y="417.90" font-size="28.6" font-weight="bold" textLength="70.87" lengthAdjust="spacingAndGlyphs" fill="#000">mean</text><text x="240.54" y="417.90" font-size="22" font-weight="bold" font-style="italic" textLength="16.72" lengthAdjust="spacingAndGlyphs" fill="#000">μ</text><text x="689.97" y="405.10" font-size="28.6" font-weight="bold" textLength="113.62" lengthAdjust="spacingAndGlyphs" fill="#000">Sampling</text><text x="810.75" y="405.10" font-size="28.6" font-weight="bold" textLength="140.63" lengthAdjust="spacingAndGlyphs" fill="#000">distribution</text><text x="469.38" y="473.20" font-size="27.6" font-weight="bold" textLength="8.85" lengthAdjust="spacingAndGlyphs" fill="#231f20">(</text><text x="478.58" y="474.80" font-size="28.6" font-weight="bold" textLength="15.54" lengthAdjust="spacingAndGlyphs" fill="#231f20">a</text><text x="495.77" y="473.20" font-size="27.6" font-weight="bold" textLength="8.97" lengthAdjust="spacingAndGlyphs" fill="#231f20">)</text>
<g stroke="#231f20" stroke-width="1.5"><line x1="512.1" y1="115.6" x2="521.9" y2="115.6"/><line x1="512.1" y1="169.7" x2="521.9" y2="169.7"/><line x1="512.1" y1="227.6" x2="521.9" y2="227.6"/></g>
<g stroke="#2a6dad" stroke-width="2.8"><line x1="291" y1="127.6" x2="470" y2="127.6"/><line x1="291" y1="182.3" x2="470" y2="182.3"/><line x1="291" y1="237.1" x2="470" y2="237.1"/></g>
<g fill="#2a6dad"><path d="M469.2 121.7 L478.3 127.7 L469.2 134.0 Z"/><path d="M469.2 176.4 L478.3 182.4 L469.2 188.8 Z"/><path d="M469.2 231.2 L478.3 237.2 L469.2 243.5 Z"/></g>
<g fill="#231f20"><rect x="469.9" y="271.0" width="3" height="3"/><rect x="516.7" y="271.0" width="3" height="3"/><rect x="469.9" y="306.9" width="3" height="3"/><rect x="516.7" y="306.9" width="3" height="3"/><rect x="469.9" y="343.0" width="3" height="3"/><rect x="516.7" y="343.0" width="3" height="3"/></g>
<path d="M566 80.6 C575.5 80.6 582.5 89 582.5 100 L582.5 199 C582.5 212 590 222 602.3 222.4 C590 223 582.5 232 582.5 243 L582.5 348 C582.5 358 575 366.4 565.5 366.4" fill="none" stroke="#231f20" stroke-width="2.8" stroke-linecap="round"/>
<g stroke="#000" stroke-width="1" fill="#2d72ad"><path d="M751.7 358.2 L751.7 335.6 L769.6 335.6 L769.6 230.1 L788.4 230.1 L788.4 102.5 L805.3 102.5 L805.3 113.5 L822.7 113.5 L822.7 249.6 L841.4 249.6 L841.4 323.8 L859.2 323.8 L859.2 358.2 Z"/></g>
<line x1="694" y1="358.2" x2="917" y2="358.2" stroke="#000" stroke-width="3"/>
<line x1="805.3" y1="77" x2="805.3" y2="370.7" stroke="#000" stroke-width="2.6"/>
<path d="M725.0 356.5 C727.1 356.2 733.8 356.1 737.6 354.7 C741.4 353.3 744.8 351.1 747.7 348.4 C750.6 345.7 753.1 342.1 755.2 338.3 C757.3 334.5 758.6 330.3 760.3 325.7 C762.0 321.1 763.9 316.5 765.4 310.6 C766.9 304.7 767.9 298.0 769.2 290.4 C770.5 282.8 772.2 273.6 773.3 265.2 C774.4 256.8 774.9 249.2 775.8 240.0 C776.7 230.8 777.6 219.7 778.7 210.1 C779.8 200.5 781.3 191.2 782.6 182.7 C783.9 174.1 785.2 167.4 786.5 158.8 C787.8 150.2 789.2 140.0 790.6 131.4 C792.0 122.8 793.4 113.7 794.8 107.4 C796.2 101.1 797.5 96.7 799.1 93.7 C800.8 90.7 802.8 89.6 804.7 89.6 C806.6 89.6 808.8 90.7 810.3 93.7 C811.8 96.7 812.7 101.1 813.9 107.4 C815.1 113.7 816.1 122.8 817.3 131.4 C818.5 140.0 820.0 150.2 821.2 158.8 C822.4 167.4 823.6 174.1 824.7 182.7 C825.9 191.2 826.9 200.5 828.1 210.1 C829.3 219.7 830.5 230.8 831.8 240.0 C833.1 249.2 834.5 256.8 835.8 265.2 C837.1 273.6 838.4 282.8 839.8 290.4 C841.2 298.0 842.8 305.1 844.1 310.6 C845.5 316.1 846.4 319.0 847.9 323.2 C849.4 327.4 851.0 331.8 852.9 335.8 C854.8 339.8 856.7 344.0 859.2 347.1 C861.7 350.2 863.6 353.1 868.0 354.7 C872.4 356.3 882.8 356.2 885.7 356.5" fill="none" stroke="#7a70b8" stroke-width="3.8" stroke-linecap="round"/>
</svg>
</body></html>
